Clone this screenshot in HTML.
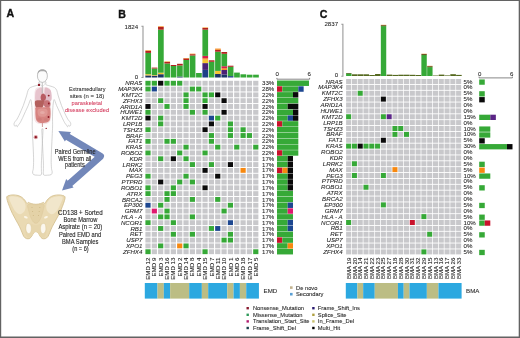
<!DOCTYPE html>
<html><head><meta charset="utf-8"><style>
html,body{margin:0;padding:0;background:#fff;width:520px;height:338px;overflow:hidden;}
svg{display:block;font-family:"Liberation Sans",sans-serif;}
#wrap{will-change:transform;width:520px;height:338px;filter:blur(0.3px);}
</style></head><body>
<div id="wrap"><svg width="520" height="338" viewBox="0 0 520 338">
<rect x="0.00" y="0.00" width="520.00" height="1.00" fill="#636363"/>
<rect x="0.00" y="0.00" width="1.20" height="338.00" fill="#636363"/>
<rect x="518.70" y="0.00" width="1.30" height="338.00" fill="#636363"/>
<rect x="0.00" y="336.50" width="520.00" height="1.50" fill="#636363"/>
<text x="6.40" y="16.90" font-size="10.6" text-anchor="start" fill="#111" font-weight="bold" stroke="#111" stroke-width="0.35">A</text>
<text x="118.20" y="17.70" font-size="10.6" text-anchor="start" fill="#111" font-weight="bold" stroke="#111" stroke-width="0.35">B</text>
<text x="319.80" y="18.00" font-size="10.6" text-anchor="start" fill="#111" font-weight="bold" stroke="#111" stroke-width="0.35">C</text>
<rect x="145.40" y="80.80" width="5.20" height="4.85" fill="#36a937"/>
<rect x="151.74" y="80.80" width="5.20" height="4.85" fill="#36a937"/>
<rect x="158.08" y="80.80" width="5.20" height="4.85" fill="#0a0a0a"/>
<rect x="164.42" y="80.80" width="5.20" height="4.85" fill="#36a937"/>
<rect x="170.76" y="80.80" width="5.20" height="4.85" fill="#36a937"/>
<rect x="177.10" y="80.80" width="5.20" height="4.85" fill="#36a937"/>
<rect x="183.44" y="80.80" width="5.20" height="4.85" fill="#c8c8cb"/>
<rect x="189.78" y="80.80" width="5.20" height="4.85" fill="#c8c8cb"/>
<rect x="196.12" y="80.80" width="5.20" height="4.85" fill="#c8c8cb"/>
<rect x="202.46" y="80.80" width="5.20" height="4.85" fill="#c8c8cb"/>
<rect x="208.80" y="80.80" width="5.20" height="4.85" fill="#c8c8cb"/>
<rect x="215.14" y="80.80" width="5.20" height="4.85" fill="#c8c8cb"/>
<rect x="221.48" y="80.80" width="5.20" height="4.85" fill="#c8c8cb"/>
<rect x="227.82" y="80.80" width="5.20" height="4.85" fill="#c8c8cb"/>
<rect x="234.16" y="80.80" width="5.20" height="4.85" fill="#c8c8cb"/>
<rect x="240.50" y="80.80" width="5.20" height="4.85" fill="#c8c8cb"/>
<rect x="246.84" y="80.80" width="5.20" height="4.85" fill="#c8c8cb"/>
<rect x="253.18" y="80.80" width="5.20" height="4.85" fill="#c8c8cb"/>
<rect x="145.40" y="86.61" width="5.20" height="4.85" fill="#36a937"/>
<rect x="151.74" y="86.61" width="5.20" height="4.85" fill="#1d4790"/>
<rect x="158.08" y="86.61" width="5.20" height="4.85" fill="#c8c8cb"/>
<rect x="164.42" y="86.61" width="5.20" height="4.85" fill="#c8c8cb"/>
<rect x="170.76" y="86.61" width="5.20" height="4.85" fill="#c8c8cb"/>
<rect x="177.10" y="86.61" width="5.20" height="4.85" fill="#c8c8cb"/>
<rect x="183.44" y="86.61" width="5.20" height="4.85" fill="#c8c8cb"/>
<rect x="189.78" y="86.61" width="5.20" height="4.85" fill="#36a937"/>
<rect x="196.12" y="86.61" width="5.20" height="4.85" fill="#36a937"/>
<rect x="202.46" y="86.61" width="5.20" height="4.85" fill="#c8c8cb"/>
<rect x="208.80" y="86.61" width="5.20" height="4.85" fill="#c8c8cb"/>
<rect x="215.14" y="86.61" width="5.20" height="4.85" fill="#c8c8cb"/>
<rect x="221.48" y="86.61" width="5.20" height="4.85" fill="#c8c8cb"/>
<rect x="227.82" y="86.61" width="5.20" height="4.85" fill="#c8c8cb"/>
<rect x="234.16" y="86.61" width="5.20" height="4.85" fill="#c8c8cb"/>
<rect x="240.50" y="86.61" width="5.20" height="4.85" fill="#c8c8cb"/>
<rect x="246.84" y="86.61" width="5.20" height="4.85" fill="#c8c8cb"/>
<rect x="253.18" y="86.61" width="5.20" height="4.85" fill="#c8c8cb"/>
<rect x="145.40" y="92.42" width="5.20" height="4.85" fill="#c8c8cb"/>
<rect x="151.74" y="92.42" width="5.20" height="4.85" fill="#c8c8cb"/>
<rect x="158.08" y="92.42" width="5.20" height="4.85" fill="#c8c8cb"/>
<rect x="164.42" y="92.42" width="5.20" height="4.85" fill="#c8c8cb"/>
<rect x="170.76" y="92.42" width="5.20" height="4.85" fill="#c8c8cb"/>
<rect x="177.10" y="92.42" width="5.20" height="4.85" fill="#c8c8cb"/>
<rect x="183.44" y="92.42" width="5.20" height="4.85" fill="#36a937"/>
<rect x="189.78" y="92.42" width="5.20" height="4.85" fill="#c8c8cb"/>
<rect x="196.12" y="92.42" width="5.20" height="4.85" fill="#c8c8cb"/>
<rect x="202.46" y="92.42" width="5.20" height="4.85" fill="#36a937"/>
<rect x="208.80" y="92.42" width="5.20" height="4.85" fill="#36a937"/>
<rect x="215.14" y="92.42" width="5.20" height="4.85" fill="#0a0a0a"/>
<rect x="221.48" y="92.42" width="5.20" height="4.85" fill="#c8c8cb"/>
<rect x="227.82" y="92.42" width="5.20" height="4.85" fill="#c8c8cb"/>
<rect x="234.16" y="92.42" width="5.20" height="4.85" fill="#c8c8cb"/>
<rect x="240.50" y="92.42" width="5.20" height="4.85" fill="#c8c8cb"/>
<rect x="246.84" y="92.42" width="5.20" height="4.85" fill="#c8c8cb"/>
<rect x="253.18" y="92.42" width="5.20" height="4.85" fill="#c8c8cb"/>
<rect x="145.40" y="98.23" width="5.20" height="4.85" fill="#c8c8cb"/>
<rect x="151.74" y="98.23" width="5.20" height="4.85" fill="#c8c8cb"/>
<rect x="158.08" y="98.23" width="5.20" height="4.85" fill="#36a937"/>
<rect x="164.42" y="98.23" width="5.20" height="4.85" fill="#c8c8cb"/>
<rect x="170.76" y="98.23" width="5.20" height="4.85" fill="#c8c8cb"/>
<rect x="177.10" y="98.23" width="5.20" height="4.85" fill="#c8c8cb"/>
<rect x="183.44" y="98.23" width="5.20" height="4.85" fill="#36a937"/>
<rect x="189.78" y="98.23" width="5.20" height="4.85" fill="#c8c8cb"/>
<rect x="196.12" y="98.23" width="5.20" height="4.85" fill="#c8c8cb"/>
<rect x="202.46" y="98.23" width="5.20" height="4.85" fill="#36a937"/>
<rect x="208.80" y="98.23" width="5.20" height="4.85" fill="#c8c8cb"/>
<rect x="215.14" y="98.23" width="5.20" height="4.85" fill="#c8c8cb"/>
<rect x="221.48" y="98.23" width="5.20" height="4.85" fill="#0a0a0a"/>
<rect x="227.82" y="98.23" width="5.20" height="4.85" fill="#c8c8cb"/>
<rect x="234.16" y="98.23" width="5.20" height="4.85" fill="#c8c8cb"/>
<rect x="240.50" y="98.23" width="5.20" height="4.85" fill="#c8c8cb"/>
<rect x="246.84" y="98.23" width="5.20" height="4.85" fill="#c8c8cb"/>
<rect x="253.18" y="98.23" width="5.20" height="4.85" fill="#c8c8cb"/>
<rect x="145.40" y="104.04" width="5.20" height="4.85" fill="#0a0a0a"/>
<rect x="151.74" y="104.04" width="5.20" height="4.85" fill="#c8c8cb"/>
<rect x="158.08" y="104.04" width="5.20" height="4.85" fill="#c8c8cb"/>
<rect x="164.42" y="104.04" width="5.20" height="4.85" fill="#36a937"/>
<rect x="170.76" y="104.04" width="5.20" height="4.85" fill="#c8c8cb"/>
<rect x="177.10" y="104.04" width="5.20" height="4.85" fill="#c8c8cb"/>
<rect x="183.44" y="104.04" width="5.20" height="4.85" fill="#36a937"/>
<rect x="189.78" y="104.04" width="5.20" height="4.85" fill="#c8c8cb"/>
<rect x="196.12" y="104.04" width="5.20" height="4.85" fill="#c8c8cb"/>
<rect x="202.46" y="104.04" width="5.20" height="4.85" fill="#0a0a0a"/>
<rect x="208.80" y="104.04" width="5.20" height="4.85" fill="#c8c8cb"/>
<rect x="215.14" y="104.04" width="5.20" height="4.85" fill="#c8c8cb"/>
<rect x="221.48" y="104.04" width="5.20" height="4.85" fill="#c8c8cb"/>
<rect x="227.82" y="104.04" width="5.20" height="4.85" fill="#c8c8cb"/>
<rect x="234.16" y="104.04" width="5.20" height="4.85" fill="#c8c8cb"/>
<rect x="240.50" y="104.04" width="5.20" height="4.85" fill="#c8c8cb"/>
<rect x="246.84" y="104.04" width="5.20" height="4.85" fill="#c8c8cb"/>
<rect x="253.18" y="104.04" width="5.20" height="4.85" fill="#c8c8cb"/>
<rect x="145.40" y="109.85" width="5.20" height="4.85" fill="#36a937"/>
<rect x="151.74" y="109.85" width="5.20" height="4.85" fill="#c8c8cb"/>
<rect x="158.08" y="109.85" width="5.20" height="4.85" fill="#c8c8cb"/>
<rect x="164.42" y="109.85" width="5.20" height="4.85" fill="#c8c8cb"/>
<rect x="170.76" y="109.85" width="5.20" height="4.85" fill="#c8c8cb"/>
<rect x="177.10" y="109.85" width="5.20" height="4.85" fill="#c8c8cb"/>
<rect x="183.44" y="109.85" width="5.20" height="4.85" fill="#c8c8cb"/>
<rect x="189.78" y="109.85" width="5.20" height="4.85" fill="#36a937"/>
<rect x="196.12" y="109.85" width="5.20" height="4.85" fill="#c8c8cb"/>
<rect x="202.46" y="109.85" width="5.20" height="4.85" fill="#36a937"/>
<rect x="208.80" y="109.85" width="5.20" height="4.85" fill="#c8c8cb"/>
<rect x="215.14" y="109.85" width="5.20" height="4.85" fill="#c8c8cb"/>
<rect x="221.48" y="109.85" width="5.20" height="4.85" fill="#0a0a0a"/>
<rect x="227.82" y="109.85" width="5.20" height="4.85" fill="#c8c8cb"/>
<rect x="234.16" y="109.85" width="5.20" height="4.85" fill="#c8c8cb"/>
<rect x="240.50" y="109.85" width="5.20" height="4.85" fill="#c8c8cb"/>
<rect x="246.84" y="109.85" width="5.20" height="4.85" fill="#c8c8cb"/>
<rect x="253.18" y="109.85" width="5.20" height="4.85" fill="#c8c8cb"/>
<rect x="145.40" y="115.66" width="5.20" height="4.85" fill="#0a0a0a"/>
<rect x="151.74" y="115.66" width="5.20" height="4.85" fill="#c8c8cb"/>
<rect x="158.08" y="115.66" width="5.20" height="4.85" fill="#36a937"/>
<rect x="164.42" y="115.66" width="5.20" height="4.85" fill="#c8c8cb"/>
<rect x="170.76" y="115.66" width="5.20" height="4.85" fill="#c8c8cb"/>
<rect x="177.10" y="115.66" width="5.20" height="4.85" fill="#c8c8cb"/>
<rect x="183.44" y="115.66" width="5.20" height="4.85" fill="#c8c8cb"/>
<rect x="189.78" y="115.66" width="5.20" height="4.85" fill="#c8c8cb"/>
<rect x="196.12" y="115.66" width="5.20" height="4.85" fill="#c8c8cb"/>
<rect x="202.46" y="115.66" width="5.20" height="4.85" fill="#c8c8cb"/>
<rect x="208.80" y="115.66" width="5.20" height="4.85" fill="#1d4790"/>
<rect x="215.14" y="115.66" width="5.20" height="4.85" fill="#36a937"/>
<rect x="221.48" y="115.66" width="5.20" height="4.85" fill="#c8c8cb"/>
<rect x="227.82" y="115.66" width="5.20" height="4.85" fill="#c8c8cb"/>
<rect x="234.16" y="115.66" width="5.20" height="4.85" fill="#c8c8cb"/>
<rect x="240.50" y="115.66" width="5.20" height="4.85" fill="#c8c8cb"/>
<rect x="246.84" y="115.66" width="5.20" height="4.85" fill="#c8c8cb"/>
<rect x="253.18" y="115.66" width="5.20" height="4.85" fill="#c8c8cb"/>
<rect x="145.40" y="121.47" width="5.20" height="4.85" fill="#c8c8cb"/>
<rect x="151.74" y="121.47" width="5.20" height="4.85" fill="#c8c8cb"/>
<rect x="158.08" y="121.47" width="5.20" height="4.85" fill="#36a937"/>
<rect x="164.42" y="121.47" width="5.20" height="4.85" fill="#c8c8cb"/>
<rect x="170.76" y="121.47" width="5.20" height="4.85" fill="#c8c8cb"/>
<rect x="177.10" y="121.47" width="5.20" height="4.85" fill="#c8c8cb"/>
<rect x="183.44" y="121.47" width="5.20" height="4.85" fill="#c8c8cb"/>
<rect x="189.78" y="121.47" width="5.20" height="4.85" fill="#c8c8cb"/>
<rect x="196.12" y="121.47" width="5.20" height="4.85" fill="#c8c8cb"/>
<rect x="202.46" y="121.47" width="5.20" height="4.85" fill="#c8c8cb"/>
<rect x="208.80" y="121.47" width="5.20" height="4.85" fill="#0a0a0a"/>
<rect x="215.14" y="121.47" width="5.20" height="4.85" fill="#c8c8cb"/>
<rect x="221.48" y="121.47" width="5.20" height="4.85" fill="#c8c8cb"/>
<rect x="227.82" y="121.47" width="5.20" height="4.85" fill="#36a937"/>
<rect x="234.16" y="121.47" width="5.20" height="4.85" fill="#c8c8cb"/>
<rect x="240.50" y="121.47" width="5.20" height="4.85" fill="#c8c8cb"/>
<rect x="246.84" y="121.47" width="5.20" height="4.85" fill="#c8c8cb"/>
<rect x="253.18" y="121.47" width="5.20" height="4.85" fill="#c8c8cb"/>
<rect x="145.40" y="127.28" width="5.20" height="4.85" fill="#36a937"/>
<rect x="151.74" y="127.28" width="5.20" height="4.85" fill="#c8c8cb"/>
<rect x="158.08" y="127.28" width="5.20" height="4.85" fill="#c8c8cb"/>
<rect x="164.42" y="127.28" width="5.20" height="4.85" fill="#c8c8cb"/>
<rect x="170.76" y="127.28" width="5.20" height="4.85" fill="#c8c8cb"/>
<rect x="177.10" y="127.28" width="5.20" height="4.85" fill="#c8c8cb"/>
<rect x="183.44" y="127.28" width="5.20" height="4.85" fill="#c8c8cb"/>
<rect x="189.78" y="127.28" width="5.20" height="4.85" fill="#c8c8cb"/>
<rect x="196.12" y="127.28" width="5.20" height="4.85" fill="#c8c8cb"/>
<rect x="202.46" y="127.28" width="5.20" height="4.85" fill="#0a0a0a"/>
<rect x="208.80" y="127.28" width="5.20" height="4.85" fill="#c8c8cb"/>
<rect x="215.14" y="127.28" width="5.20" height="4.85" fill="#c8c8cb"/>
<rect x="221.48" y="127.28" width="5.20" height="4.85" fill="#c8c8cb"/>
<rect x="227.82" y="127.28" width="5.20" height="4.85" fill="#36a937"/>
<rect x="234.16" y="127.28" width="5.20" height="4.85" fill="#c8c8cb"/>
<rect x="240.50" y="127.28" width="5.20" height="4.85" fill="#36a937"/>
<rect x="246.84" y="127.28" width="5.20" height="4.85" fill="#c8c8cb"/>
<rect x="253.18" y="127.28" width="5.20" height="4.85" fill="#c8c8cb"/>
<rect x="145.40" y="133.09" width="5.20" height="4.85" fill="#c8c8cb"/>
<rect x="151.74" y="133.09" width="5.20" height="4.85" fill="#c8c8cb"/>
<rect x="158.08" y="133.09" width="5.20" height="4.85" fill="#c8c8cb"/>
<rect x="164.42" y="133.09" width="5.20" height="4.85" fill="#c8c8cb"/>
<rect x="170.76" y="133.09" width="5.20" height="4.85" fill="#c8c8cb"/>
<rect x="177.10" y="133.09" width="5.20" height="4.85" fill="#c8c8cb"/>
<rect x="183.44" y="133.09" width="5.20" height="4.85" fill="#c8c8cb"/>
<rect x="189.78" y="133.09" width="5.20" height="4.85" fill="#c8c8cb"/>
<rect x="196.12" y="133.09" width="5.20" height="4.85" fill="#c8c8cb"/>
<rect x="202.46" y="133.09" width="5.20" height="4.85" fill="#c8c8cb"/>
<rect x="208.80" y="133.09" width="5.20" height="4.85" fill="#36a937"/>
<rect x="215.14" y="133.09" width="5.20" height="4.85" fill="#c8c8cb"/>
<rect x="221.48" y="133.09" width="5.20" height="4.85" fill="#c8c8cb"/>
<rect x="227.82" y="133.09" width="5.20" height="4.85" fill="#36a937"/>
<rect x="234.16" y="133.09" width="5.20" height="4.85" fill="#c8c8cb"/>
<rect x="240.50" y="133.09" width="5.20" height="4.85" fill="#36a937"/>
<rect x="246.84" y="133.09" width="5.20" height="4.85" fill="#36a937"/>
<rect x="253.18" y="133.09" width="5.20" height="4.85" fill="#c8c8cb"/>
<rect x="145.40" y="138.90" width="5.20" height="4.85" fill="#36a937"/>
<rect x="151.74" y="138.90" width="5.20" height="4.85" fill="#c8c8cb"/>
<rect x="158.08" y="138.90" width="5.20" height="4.85" fill="#c8c8cb"/>
<rect x="164.42" y="138.90" width="5.20" height="4.85" fill="#36a937"/>
<rect x="170.76" y="138.90" width="5.20" height="4.85" fill="#36a937"/>
<rect x="177.10" y="138.90" width="5.20" height="4.85" fill="#c8c8cb"/>
<rect x="183.44" y="138.90" width="5.20" height="4.85" fill="#c8c8cb"/>
<rect x="189.78" y="138.90" width="5.20" height="4.85" fill="#c8c8cb"/>
<rect x="196.12" y="138.90" width="5.20" height="4.85" fill="#c8c8cb"/>
<rect x="202.46" y="138.90" width="5.20" height="4.85" fill="#c8c8cb"/>
<rect x="208.80" y="138.90" width="5.20" height="4.85" fill="#36a937"/>
<rect x="215.14" y="138.90" width="5.20" height="4.85" fill="#c8c8cb"/>
<rect x="221.48" y="138.90" width="5.20" height="4.85" fill="#c8c8cb"/>
<rect x="227.82" y="138.90" width="5.20" height="4.85" fill="#c8c8cb"/>
<rect x="234.16" y="138.90" width="5.20" height="4.85" fill="#c8c8cb"/>
<rect x="240.50" y="138.90" width="5.20" height="4.85" fill="#c8c8cb"/>
<rect x="246.84" y="138.90" width="5.20" height="4.85" fill="#c8c8cb"/>
<rect x="253.18" y="138.90" width="5.20" height="4.85" fill="#c8c8cb"/>
<rect x="145.40" y="144.71" width="5.20" height="4.85" fill="#c8c8cb"/>
<rect x="151.74" y="144.71" width="5.20" height="4.85" fill="#c8c8cb"/>
<rect x="158.08" y="144.71" width="5.20" height="4.85" fill="#c8c8cb"/>
<rect x="164.42" y="144.71" width="5.20" height="4.85" fill="#c8c8cb"/>
<rect x="170.76" y="144.71" width="5.20" height="4.85" fill="#c8c8cb"/>
<rect x="177.10" y="144.71" width="5.20" height="4.85" fill="#c8c8cb"/>
<rect x="183.44" y="144.71" width="5.20" height="4.85" fill="#36a937"/>
<rect x="189.78" y="144.71" width="5.20" height="4.85" fill="#c8c8cb"/>
<rect x="196.12" y="144.71" width="5.20" height="4.85" fill="#c8c8cb"/>
<rect x="202.46" y="144.71" width="5.20" height="4.85" fill="#c8c8cb"/>
<rect x="208.80" y="144.71" width="5.20" height="4.85" fill="#c8c8cb"/>
<rect x="215.14" y="144.71" width="5.20" height="4.85" fill="#36a937"/>
<rect x="221.48" y="144.71" width="5.20" height="4.85" fill="#c8c8cb"/>
<rect x="227.82" y="144.71" width="5.20" height="4.85" fill="#c8c8cb"/>
<rect x="234.16" y="144.71" width="5.20" height="4.85" fill="#36a937"/>
<rect x="240.50" y="144.71" width="5.20" height="4.85" fill="#c8c8cb"/>
<rect x="246.84" y="144.71" width="5.20" height="4.85" fill="#c8c8cb"/>
<rect x="253.18" y="144.71" width="5.20" height="4.85" fill="#36a937"/>
<rect x="145.40" y="150.52" width="5.20" height="4.85" fill="#36a937"/>
<rect x="151.74" y="150.52" width="5.20" height="4.85" fill="#c8c8cb"/>
<rect x="158.08" y="150.52" width="5.20" height="4.85" fill="#c8c8cb"/>
<rect x="164.42" y="150.52" width="5.20" height="4.85" fill="#c8c8cb"/>
<rect x="170.76" y="150.52" width="5.20" height="4.85" fill="#c8c8cb"/>
<rect x="177.10" y="150.52" width="5.20" height="4.85" fill="#36a937"/>
<rect x="183.44" y="150.52" width="5.20" height="4.85" fill="#c8c8cb"/>
<rect x="189.78" y="150.52" width="5.20" height="4.85" fill="#c8c8cb"/>
<rect x="196.12" y="150.52" width="5.20" height="4.85" fill="#c8c8cb"/>
<rect x="202.46" y="150.52" width="5.20" height="4.85" fill="#36a937"/>
<rect x="208.80" y="150.52" width="5.20" height="4.85" fill="#c8c8cb"/>
<rect x="215.14" y="150.52" width="5.20" height="4.85" fill="#c8c8cb"/>
<rect x="221.48" y="150.52" width="5.20" height="4.85" fill="#c8c8cb"/>
<rect x="227.82" y="150.52" width="5.20" height="4.85" fill="#c8c8cb"/>
<rect x="234.16" y="150.52" width="5.20" height="4.85" fill="#c8c8cb"/>
<rect x="240.50" y="150.52" width="5.20" height="4.85" fill="#c8c8cb"/>
<rect x="246.84" y="150.52" width="5.20" height="4.85" fill="#c8c8cb"/>
<rect x="253.18" y="150.52" width="5.20" height="4.85" fill="#c8c8cb"/>
<rect x="145.40" y="156.33" width="5.20" height="4.85" fill="#c8c8cb"/>
<rect x="151.74" y="156.33" width="5.20" height="4.85" fill="#c8c8cb"/>
<rect x="158.08" y="156.33" width="5.20" height="4.85" fill="#36a937"/>
<rect x="164.42" y="156.33" width="5.20" height="4.85" fill="#c8c8cb"/>
<rect x="170.76" y="156.33" width="5.20" height="4.85" fill="#0a0a0a"/>
<rect x="177.10" y="156.33" width="5.20" height="4.85" fill="#c8c8cb"/>
<rect x="183.44" y="156.33" width="5.20" height="4.85" fill="#36a937"/>
<rect x="189.78" y="156.33" width="5.20" height="4.85" fill="#c8c8cb"/>
<rect x="196.12" y="156.33" width="5.20" height="4.85" fill="#c8c8cb"/>
<rect x="202.46" y="156.33" width="5.20" height="4.85" fill="#c8c8cb"/>
<rect x="208.80" y="156.33" width="5.20" height="4.85" fill="#c8c8cb"/>
<rect x="215.14" y="156.33" width="5.20" height="4.85" fill="#c8c8cb"/>
<rect x="221.48" y="156.33" width="5.20" height="4.85" fill="#c8c8cb"/>
<rect x="227.82" y="156.33" width="5.20" height="4.85" fill="#c8c8cb"/>
<rect x="234.16" y="156.33" width="5.20" height="4.85" fill="#c8c8cb"/>
<rect x="240.50" y="156.33" width="5.20" height="4.85" fill="#c8c8cb"/>
<rect x="246.84" y="156.33" width="5.20" height="4.85" fill="#c8c8cb"/>
<rect x="253.18" y="156.33" width="5.20" height="4.85" fill="#c8c8cb"/>
<rect x="145.40" y="162.14" width="5.20" height="4.85" fill="#c8c8cb"/>
<rect x="151.74" y="162.14" width="5.20" height="4.85" fill="#c8c8cb"/>
<rect x="158.08" y="162.14" width="5.20" height="4.85" fill="#c8c8cb"/>
<rect x="164.42" y="162.14" width="5.20" height="4.85" fill="#c8c8cb"/>
<rect x="170.76" y="162.14" width="5.20" height="4.85" fill="#c8c8cb"/>
<rect x="177.10" y="162.14" width="5.20" height="4.85" fill="#c8c8cb"/>
<rect x="183.44" y="162.14" width="5.20" height="4.85" fill="#c8c8cb"/>
<rect x="189.78" y="162.14" width="5.20" height="4.85" fill="#36a937"/>
<rect x="196.12" y="162.14" width="5.20" height="4.85" fill="#c8c8cb"/>
<rect x="202.46" y="162.14" width="5.20" height="4.85" fill="#c8c8cb"/>
<rect x="208.80" y="162.14" width="5.20" height="4.85" fill="#36a937"/>
<rect x="215.14" y="162.14" width="5.20" height="4.85" fill="#c8c8cb"/>
<rect x="221.48" y="162.14" width="5.20" height="4.85" fill="#c8c8cb"/>
<rect x="227.82" y="162.14" width="5.20" height="4.85" fill="#0a0a0a"/>
<rect x="234.16" y="162.14" width="5.20" height="4.85" fill="#c8c8cb"/>
<rect x="240.50" y="162.14" width="5.20" height="4.85" fill="#c8c8cb"/>
<rect x="246.84" y="162.14" width="5.20" height="4.85" fill="#c8c8cb"/>
<rect x="253.18" y="162.14" width="5.20" height="4.85" fill="#c8c8cb"/>
<rect x="145.40" y="167.95" width="5.20" height="4.85" fill="#c8c8cb"/>
<rect x="151.74" y="167.95" width="5.20" height="4.85" fill="#c8c8cb"/>
<rect x="158.08" y="167.95" width="5.20" height="4.85" fill="#c8c8cb"/>
<rect x="164.42" y="167.95" width="5.20" height="4.85" fill="#c8c8cb"/>
<rect x="170.76" y="167.95" width="5.20" height="4.85" fill="#c8c8cb"/>
<rect x="177.10" y="167.95" width="5.20" height="4.85" fill="#c8c8cb"/>
<rect x="183.44" y="167.95" width="5.20" height="4.85" fill="#c8c8cb"/>
<rect x="189.78" y="167.95" width="5.20" height="4.85" fill="#c8c8cb"/>
<rect x="196.12" y="167.95" width="5.20" height="4.85" fill="#c8c8cb"/>
<rect x="202.46" y="167.95" width="5.20" height="4.85" fill="#0a0a0a"/>
<rect x="208.80" y="167.95" width="5.20" height="4.85" fill="#c8c8cb"/>
<rect x="215.14" y="167.95" width="5.20" height="4.85" fill="#c8c8cb"/>
<rect x="221.48" y="167.95" width="5.20" height="4.85" fill="#c8c8cb"/>
<rect x="227.82" y="167.95" width="5.20" height="4.85" fill="#c8c8cb"/>
<rect x="234.16" y="167.95" width="5.20" height="4.85" fill="#c8c8cb"/>
<rect x="240.50" y="167.95" width="5.20" height="4.85" fill="#f7880f"/>
<rect x="246.84" y="167.95" width="5.20" height="4.85" fill="#c8c8cb"/>
<rect x="253.18" y="167.95" width="5.20" height="4.85" fill="#c8c8cb"/>
<rect x="145.40" y="173.76" width="5.20" height="4.85" fill="#36a937"/>
<rect x="151.74" y="173.76" width="5.20" height="4.85" fill="#c8c8cb"/>
<rect x="158.08" y="173.76" width="5.20" height="4.85" fill="#c8c8cb"/>
<rect x="164.42" y="173.76" width="5.20" height="4.85" fill="#c8c8cb"/>
<rect x="170.76" y="173.76" width="5.20" height="4.85" fill="#c8c8cb"/>
<rect x="177.10" y="173.76" width="5.20" height="4.85" fill="#c8c8cb"/>
<rect x="183.44" y="173.76" width="5.20" height="4.85" fill="#36a937"/>
<rect x="189.78" y="173.76" width="5.20" height="4.85" fill="#c8c8cb"/>
<rect x="196.12" y="173.76" width="5.20" height="4.85" fill="#c8c8cb"/>
<rect x="202.46" y="173.76" width="5.20" height="4.85" fill="#c8c8cb"/>
<rect x="208.80" y="173.76" width="5.20" height="4.85" fill="#c8c8cb"/>
<rect x="215.14" y="173.76" width="5.20" height="4.85" fill="#0a0a0a"/>
<rect x="221.48" y="173.76" width="5.20" height="4.85" fill="#c8c8cb"/>
<rect x="227.82" y="173.76" width="5.20" height="4.85" fill="#c8c8cb"/>
<rect x="234.16" y="173.76" width="5.20" height="4.85" fill="#c8c8cb"/>
<rect x="240.50" y="173.76" width="5.20" height="4.85" fill="#c8c8cb"/>
<rect x="246.84" y="173.76" width="5.20" height="4.85" fill="#c8c8cb"/>
<rect x="253.18" y="173.76" width="5.20" height="4.85" fill="#c8c8cb"/>
<rect x="145.40" y="179.57" width="5.20" height="4.85" fill="#c8c8cb"/>
<rect x="151.74" y="179.57" width="5.20" height="4.85" fill="#c8c8cb"/>
<rect x="158.08" y="179.57" width="5.20" height="4.85" fill="#0a0a0a"/>
<rect x="164.42" y="179.57" width="5.20" height="4.85" fill="#c8c8cb"/>
<rect x="170.76" y="179.57" width="5.20" height="4.85" fill="#c8c8cb"/>
<rect x="177.10" y="179.57" width="5.20" height="4.85" fill="#36a937"/>
<rect x="183.44" y="179.57" width="5.20" height="4.85" fill="#c8c8cb"/>
<rect x="189.78" y="179.57" width="5.20" height="4.85" fill="#36a937"/>
<rect x="196.12" y="179.57" width="5.20" height="4.85" fill="#c8c8cb"/>
<rect x="202.46" y="179.57" width="5.20" height="4.85" fill="#c8c8cb"/>
<rect x="208.80" y="179.57" width="5.20" height="4.85" fill="#c8c8cb"/>
<rect x="215.14" y="179.57" width="5.20" height="4.85" fill="#c8c8cb"/>
<rect x="221.48" y="179.57" width="5.20" height="4.85" fill="#c8c8cb"/>
<rect x="227.82" y="179.57" width="5.20" height="4.85" fill="#c8c8cb"/>
<rect x="234.16" y="179.57" width="5.20" height="4.85" fill="#c8c8cb"/>
<rect x="240.50" y="179.57" width="5.20" height="4.85" fill="#c8c8cb"/>
<rect x="246.84" y="179.57" width="5.20" height="4.85" fill="#c8c8cb"/>
<rect x="253.18" y="179.57" width="5.20" height="4.85" fill="#c8c8cb"/>
<rect x="145.40" y="185.38" width="5.20" height="4.85" fill="#36a937"/>
<rect x="151.74" y="185.38" width="5.20" height="4.85" fill="#c8c8cb"/>
<rect x="158.08" y="185.38" width="5.20" height="4.85" fill="#c8c8cb"/>
<rect x="164.42" y="185.38" width="5.20" height="4.85" fill="#c8c8cb"/>
<rect x="170.76" y="185.38" width="5.20" height="4.85" fill="#36a937"/>
<rect x="177.10" y="185.38" width="5.20" height="4.85" fill="#c8c8cb"/>
<rect x="183.44" y="185.38" width="5.20" height="4.85" fill="#c8c8cb"/>
<rect x="189.78" y="185.38" width="5.20" height="4.85" fill="#c8c8cb"/>
<rect x="196.12" y="185.38" width="5.20" height="4.85" fill="#c8c8cb"/>
<rect x="202.46" y="185.38" width="5.20" height="4.85" fill="#0a0a0a"/>
<rect x="208.80" y="185.38" width="5.20" height="4.85" fill="#c8c8cb"/>
<rect x="215.14" y="185.38" width="5.20" height="4.85" fill="#c8c8cb"/>
<rect x="221.48" y="185.38" width="5.20" height="4.85" fill="#c8c8cb"/>
<rect x="227.82" y="185.38" width="5.20" height="4.85" fill="#c8c8cb"/>
<rect x="234.16" y="185.38" width="5.20" height="4.85" fill="#c8c8cb"/>
<rect x="240.50" y="185.38" width="5.20" height="4.85" fill="#c8c8cb"/>
<rect x="246.84" y="185.38" width="5.20" height="4.85" fill="#c8c8cb"/>
<rect x="253.18" y="185.38" width="5.20" height="4.85" fill="#c8c8cb"/>
<rect x="145.40" y="191.19" width="5.20" height="4.85" fill="#36a937"/>
<rect x="151.74" y="191.19" width="5.20" height="4.85" fill="#c8c8cb"/>
<rect x="158.08" y="191.19" width="5.20" height="4.85" fill="#c8c8cb"/>
<rect x="164.42" y="191.19" width="5.20" height="4.85" fill="#36a937"/>
<rect x="170.76" y="191.19" width="5.20" height="4.85" fill="#36a937"/>
<rect x="177.10" y="191.19" width="5.20" height="4.85" fill="#c8c8cb"/>
<rect x="183.44" y="191.19" width="5.20" height="4.85" fill="#c8c8cb"/>
<rect x="189.78" y="191.19" width="5.20" height="4.85" fill="#c8c8cb"/>
<rect x="196.12" y="191.19" width="5.20" height="4.85" fill="#c8c8cb"/>
<rect x="202.46" y="191.19" width="5.20" height="4.85" fill="#c8c8cb"/>
<rect x="208.80" y="191.19" width="5.20" height="4.85" fill="#c8c8cb"/>
<rect x="215.14" y="191.19" width="5.20" height="4.85" fill="#c8c8cb"/>
<rect x="221.48" y="191.19" width="5.20" height="4.85" fill="#c8c8cb"/>
<rect x="227.82" y="191.19" width="5.20" height="4.85" fill="#c8c8cb"/>
<rect x="234.16" y="191.19" width="5.20" height="4.85" fill="#c8c8cb"/>
<rect x="240.50" y="191.19" width="5.20" height="4.85" fill="#c8c8cb"/>
<rect x="246.84" y="191.19" width="5.20" height="4.85" fill="#c8c8cb"/>
<rect x="253.18" y="191.19" width="5.20" height="4.85" fill="#c8c8cb"/>
<rect x="145.40" y="197.00" width="5.20" height="4.85" fill="#c8c8cb"/>
<rect x="151.74" y="197.00" width="5.20" height="4.85" fill="#c8c8cb"/>
<rect x="158.08" y="197.00" width="5.20" height="4.85" fill="#c8c8cb"/>
<rect x="164.42" y="197.00" width="5.20" height="4.85" fill="#36a937"/>
<rect x="170.76" y="197.00" width="5.20" height="4.85" fill="#c8c8cb"/>
<rect x="177.10" y="197.00" width="5.20" height="4.85" fill="#c8c8cb"/>
<rect x="183.44" y="197.00" width="5.20" height="4.85" fill="#c8c8cb"/>
<rect x="189.78" y="197.00" width="5.20" height="4.85" fill="#36a937"/>
<rect x="196.12" y="197.00" width="5.20" height="4.85" fill="#c8c8cb"/>
<rect x="202.46" y="197.00" width="5.20" height="4.85" fill="#c8c8cb"/>
<rect x="208.80" y="197.00" width="5.20" height="4.85" fill="#c8c8cb"/>
<rect x="215.14" y="197.00" width="5.20" height="4.85" fill="#36a937"/>
<rect x="221.48" y="197.00" width="5.20" height="4.85" fill="#c8c8cb"/>
<rect x="227.82" y="197.00" width="5.20" height="4.85" fill="#c8c8cb"/>
<rect x="234.16" y="197.00" width="5.20" height="4.85" fill="#c8c8cb"/>
<rect x="240.50" y="197.00" width="5.20" height="4.85" fill="#c8c8cb"/>
<rect x="246.84" y="197.00" width="5.20" height="4.85" fill="#c8c8cb"/>
<rect x="253.18" y="197.00" width="5.20" height="4.85" fill="#c8c8cb"/>
<rect x="145.40" y="202.81" width="5.20" height="4.85" fill="#1d4790"/>
<rect x="151.74" y="202.81" width="5.20" height="4.85" fill="#c8c8cb"/>
<rect x="158.08" y="202.81" width="5.20" height="4.85" fill="#36a937"/>
<rect x="164.42" y="202.81" width="5.20" height="4.85" fill="#c8c8cb"/>
<rect x="170.76" y="202.81" width="5.20" height="4.85" fill="#c8c8cb"/>
<rect x="177.10" y="202.81" width="5.20" height="4.85" fill="#c8c8cb"/>
<rect x="183.44" y="202.81" width="5.20" height="4.85" fill="#c8c8cb"/>
<rect x="189.78" y="202.81" width="5.20" height="4.85" fill="#c8c8cb"/>
<rect x="196.12" y="202.81" width="5.20" height="4.85" fill="#c8c8cb"/>
<rect x="202.46" y="202.81" width="5.20" height="4.85" fill="#c8c8cb"/>
<rect x="208.80" y="202.81" width="5.20" height="4.85" fill="#c8c8cb"/>
<rect x="215.14" y="202.81" width="5.20" height="4.85" fill="#c8c8cb"/>
<rect x="221.48" y="202.81" width="5.20" height="4.85" fill="#c8c8cb"/>
<rect x="227.82" y="202.81" width="5.20" height="4.85" fill="#36a937"/>
<rect x="234.16" y="202.81" width="5.20" height="4.85" fill="#c8c8cb"/>
<rect x="240.50" y="202.81" width="5.20" height="4.85" fill="#c8c8cb"/>
<rect x="246.84" y="202.81" width="5.20" height="4.85" fill="#c8c8cb"/>
<rect x="253.18" y="202.81" width="5.20" height="4.85" fill="#c8c8cb"/>
<rect x="145.40" y="208.62" width="5.20" height="4.85" fill="#c8c8cb"/>
<rect x="151.74" y="208.62" width="5.20" height="4.85" fill="#e0186f"/>
<rect x="158.08" y="208.62" width="5.20" height="4.85" fill="#c8c8cb"/>
<rect x="164.42" y="208.62" width="5.20" height="4.85" fill="#36a937"/>
<rect x="170.76" y="208.62" width="5.20" height="4.85" fill="#c8c8cb"/>
<rect x="177.10" y="208.62" width="5.20" height="4.85" fill="#c8c8cb"/>
<rect x="183.44" y="208.62" width="5.20" height="4.85" fill="#c8c8cb"/>
<rect x="189.78" y="208.62" width="5.20" height="4.85" fill="#c8c8cb"/>
<rect x="196.12" y="208.62" width="5.20" height="4.85" fill="#c8c8cb"/>
<rect x="202.46" y="208.62" width="5.20" height="4.85" fill="#c8c8cb"/>
<rect x="208.80" y="208.62" width="5.20" height="4.85" fill="#c8c8cb"/>
<rect x="215.14" y="208.62" width="5.20" height="4.85" fill="#c8c8cb"/>
<rect x="221.48" y="208.62" width="5.20" height="4.85" fill="#36a937"/>
<rect x="227.82" y="208.62" width="5.20" height="4.85" fill="#c8c8cb"/>
<rect x="234.16" y="208.62" width="5.20" height="4.85" fill="#c8c8cb"/>
<rect x="240.50" y="208.62" width="5.20" height="4.85" fill="#c8c8cb"/>
<rect x="246.84" y="208.62" width="5.20" height="4.85" fill="#c8c8cb"/>
<rect x="253.18" y="208.62" width="5.20" height="4.85" fill="#c8c8cb"/>
<rect x="145.40" y="214.43" width="5.20" height="4.85" fill="#c8c8cb"/>
<rect x="151.74" y="214.43" width="5.20" height="4.85" fill="#c8c8cb"/>
<rect x="158.08" y="214.43" width="5.20" height="4.85" fill="#36a937"/>
<rect x="164.42" y="214.43" width="5.20" height="4.85" fill="#36a937"/>
<rect x="170.76" y="214.43" width="5.20" height="4.85" fill="#c8c8cb"/>
<rect x="177.10" y="214.43" width="5.20" height="4.85" fill="#c8c8cb"/>
<rect x="183.44" y="214.43" width="5.20" height="4.85" fill="#c8c8cb"/>
<rect x="189.78" y="214.43" width="5.20" height="4.85" fill="#36a937"/>
<rect x="196.12" y="214.43" width="5.20" height="4.85" fill="#c8c8cb"/>
<rect x="202.46" y="214.43" width="5.20" height="4.85" fill="#c8c8cb"/>
<rect x="208.80" y="214.43" width="5.20" height="4.85" fill="#c8c8cb"/>
<rect x="215.14" y="214.43" width="5.20" height="4.85" fill="#c8c8cb"/>
<rect x="221.48" y="214.43" width="5.20" height="4.85" fill="#c8c8cb"/>
<rect x="227.82" y="214.43" width="5.20" height="4.85" fill="#c8c8cb"/>
<rect x="234.16" y="214.43" width="5.20" height="4.85" fill="#c8c8cb"/>
<rect x="240.50" y="214.43" width="5.20" height="4.85" fill="#c8c8cb"/>
<rect x="246.84" y="214.43" width="5.20" height="4.85" fill="#c8c8cb"/>
<rect x="253.18" y="214.43" width="5.20" height="4.85" fill="#c8c8cb"/>
<rect x="145.40" y="220.24" width="5.20" height="4.85" fill="#36a937"/>
<rect x="151.74" y="220.24" width="5.20" height="4.85" fill="#c8c8cb"/>
<rect x="158.08" y="220.24" width="5.20" height="4.85" fill="#c8c8cb"/>
<rect x="164.42" y="220.24" width="5.20" height="4.85" fill="#c8c8cb"/>
<rect x="170.76" y="220.24" width="5.20" height="4.85" fill="#36a937"/>
<rect x="177.10" y="220.24" width="5.20" height="4.85" fill="#c8c8cb"/>
<rect x="183.44" y="220.24" width="5.20" height="4.85" fill="#c8c8cb"/>
<rect x="189.78" y="220.24" width="5.20" height="4.85" fill="#c8c8cb"/>
<rect x="196.12" y="220.24" width="5.20" height="4.85" fill="#c8c8cb"/>
<rect x="202.46" y="220.24" width="5.20" height="4.85" fill="#c8c8cb"/>
<rect x="208.80" y="220.24" width="5.20" height="4.85" fill="#c8c8cb"/>
<rect x="215.14" y="220.24" width="5.20" height="4.85" fill="#c8c8cb"/>
<rect x="221.48" y="220.24" width="5.20" height="4.85" fill="#c8c8cb"/>
<rect x="227.82" y="220.24" width="5.20" height="4.85" fill="#1d4790"/>
<rect x="234.16" y="220.24" width="5.20" height="4.85" fill="#c8c8cb"/>
<rect x="240.50" y="220.24" width="5.20" height="4.85" fill="#c8c8cb"/>
<rect x="246.84" y="220.24" width="5.20" height="4.85" fill="#c8c8cb"/>
<rect x="253.18" y="220.24" width="5.20" height="4.85" fill="#c8c8cb"/>
<rect x="145.40" y="226.05" width="5.20" height="4.85" fill="#c8c8cb"/>
<rect x="151.74" y="226.05" width="5.20" height="4.85" fill="#c8c8cb"/>
<rect x="158.08" y="226.05" width="5.20" height="4.85" fill="#36a937"/>
<rect x="164.42" y="226.05" width="5.20" height="4.85" fill="#c8c8cb"/>
<rect x="170.76" y="226.05" width="5.20" height="4.85" fill="#c8c8cb"/>
<rect x="177.10" y="226.05" width="5.20" height="4.85" fill="#c8c8cb"/>
<rect x="183.44" y="226.05" width="5.20" height="4.85" fill="#c8c8cb"/>
<rect x="189.78" y="226.05" width="5.20" height="4.85" fill="#c8c8cb"/>
<rect x="196.12" y="226.05" width="5.20" height="4.85" fill="#c8c8cb"/>
<rect x="202.46" y="226.05" width="5.20" height="4.85" fill="#c8c8cb"/>
<rect x="208.80" y="226.05" width="5.20" height="4.85" fill="#36a937"/>
<rect x="215.14" y="226.05" width="5.20" height="4.85" fill="#1d4790"/>
<rect x="221.48" y="226.05" width="5.20" height="4.85" fill="#c8c8cb"/>
<rect x="227.82" y="226.05" width="5.20" height="4.85" fill="#c8c8cb"/>
<rect x="234.16" y="226.05" width="5.20" height="4.85" fill="#c8c8cb"/>
<rect x="240.50" y="226.05" width="5.20" height="4.85" fill="#c8c8cb"/>
<rect x="246.84" y="226.05" width="5.20" height="4.85" fill="#c8c8cb"/>
<rect x="253.18" y="226.05" width="5.20" height="4.85" fill="#c8c8cb"/>
<rect x="145.40" y="231.86" width="5.20" height="4.85" fill="#c8c8cb"/>
<rect x="151.74" y="231.86" width="5.20" height="4.85" fill="#c8c8cb"/>
<rect x="158.08" y="231.86" width="5.20" height="4.85" fill="#c8c8cb"/>
<rect x="164.42" y="231.86" width="5.20" height="4.85" fill="#c8c8cb"/>
<rect x="170.76" y="231.86" width="5.20" height="4.85" fill="#36a937"/>
<rect x="177.10" y="231.86" width="5.20" height="4.85" fill="#c8c8cb"/>
<rect x="183.44" y="231.86" width="5.20" height="4.85" fill="#c8c8cb"/>
<rect x="189.78" y="231.86" width="5.20" height="4.85" fill="#36a937"/>
<rect x="196.12" y="231.86" width="5.20" height="4.85" fill="#c8c8cb"/>
<rect x="202.46" y="231.86" width="5.20" height="4.85" fill="#c8c8cb"/>
<rect x="208.80" y="231.86" width="5.20" height="4.85" fill="#c8c8cb"/>
<rect x="215.14" y="231.86" width="5.20" height="4.85" fill="#c8c8cb"/>
<rect x="221.48" y="231.86" width="5.20" height="4.85" fill="#c8c8cb"/>
<rect x="227.82" y="231.86" width="5.20" height="4.85" fill="#36a937"/>
<rect x="234.16" y="231.86" width="5.20" height="4.85" fill="#c8c8cb"/>
<rect x="240.50" y="231.86" width="5.20" height="4.85" fill="#c8c8cb"/>
<rect x="246.84" y="231.86" width="5.20" height="4.85" fill="#c8c8cb"/>
<rect x="253.18" y="231.86" width="5.20" height="4.85" fill="#c8c8cb"/>
<rect x="145.40" y="237.67" width="5.20" height="4.85" fill="#c8c8cb"/>
<rect x="151.74" y="237.67" width="5.20" height="4.85" fill="#c8c8cb"/>
<rect x="158.08" y="237.67" width="5.20" height="4.85" fill="#c8c8cb"/>
<rect x="164.42" y="237.67" width="5.20" height="4.85" fill="#c8c8cb"/>
<rect x="170.76" y="237.67" width="5.20" height="4.85" fill="#c8c8cb"/>
<rect x="177.10" y="237.67" width="5.20" height="4.85" fill="#c8c8cb"/>
<rect x="183.44" y="237.67" width="5.20" height="4.85" fill="#c8c8cb"/>
<rect x="189.78" y="237.67" width="5.20" height="4.85" fill="#c8c8cb"/>
<rect x="196.12" y="237.67" width="5.20" height="4.85" fill="#c8c8cb"/>
<rect x="202.46" y="237.67" width="5.20" height="4.85" fill="#c8c8cb"/>
<rect x="208.80" y="237.67" width="5.20" height="4.85" fill="#c8c8cb"/>
<rect x="215.14" y="237.67" width="5.20" height="4.85" fill="#c8c8cb"/>
<rect x="221.48" y="237.67" width="5.20" height="4.85" fill="#36a937"/>
<rect x="227.82" y="237.67" width="5.20" height="4.85" fill="#36a937"/>
<rect x="234.16" y="237.67" width="5.20" height="4.85" fill="#c8c8cb"/>
<rect x="240.50" y="237.67" width="5.20" height="4.85" fill="#c8c8cb"/>
<rect x="246.84" y="237.67" width="5.20" height="4.85" fill="#c8c8cb"/>
<rect x="253.18" y="237.67" width="5.20" height="4.85" fill="#c8c8cb"/>
<rect x="145.40" y="243.48" width="5.20" height="4.85" fill="#c8c8cb"/>
<rect x="151.74" y="243.48" width="5.20" height="4.85" fill="#c8c8cb"/>
<rect x="158.08" y="243.48" width="5.20" height="4.85" fill="#36a937"/>
<rect x="164.42" y="243.48" width="5.20" height="4.85" fill="#c8c8cb"/>
<rect x="170.76" y="243.48" width="5.20" height="4.85" fill="#c8c8cb"/>
<rect x="177.10" y="243.48" width="5.20" height="4.85" fill="#f7880f"/>
<rect x="183.44" y="243.48" width="5.20" height="4.85" fill="#36a937"/>
<rect x="189.78" y="243.48" width="5.20" height="4.85" fill="#c8c8cb"/>
<rect x="196.12" y="243.48" width="5.20" height="4.85" fill="#c8c8cb"/>
<rect x="202.46" y="243.48" width="5.20" height="4.85" fill="#c8c8cb"/>
<rect x="208.80" y="243.48" width="5.20" height="4.85" fill="#c8c8cb"/>
<rect x="215.14" y="243.48" width="5.20" height="4.85" fill="#c8c8cb"/>
<rect x="221.48" y="243.48" width="5.20" height="4.85" fill="#c8c8cb"/>
<rect x="227.82" y="243.48" width="5.20" height="4.85" fill="#c8c8cb"/>
<rect x="234.16" y="243.48" width="5.20" height="4.85" fill="#c8c8cb"/>
<rect x="240.50" y="243.48" width="5.20" height="4.85" fill="#c8c8cb"/>
<rect x="246.84" y="243.48" width="5.20" height="4.85" fill="#c8c8cb"/>
<rect x="253.18" y="243.48" width="5.20" height="4.85" fill="#c8c8cb"/>
<rect x="145.40" y="249.29" width="5.20" height="4.85" fill="#36a937"/>
<rect x="151.74" y="249.29" width="5.20" height="4.85" fill="#c8c8cb"/>
<rect x="158.08" y="249.29" width="5.20" height="4.85" fill="#c8c8cb"/>
<rect x="164.42" y="249.29" width="5.20" height="4.85" fill="#c8c8cb"/>
<rect x="170.76" y="249.29" width="5.20" height="4.85" fill="#c8c8cb"/>
<rect x="177.10" y="249.29" width="5.20" height="4.85" fill="#c8c8cb"/>
<rect x="183.44" y="249.29" width="5.20" height="4.85" fill="#c8c8cb"/>
<rect x="189.78" y="249.29" width="5.20" height="4.85" fill="#c8c8cb"/>
<rect x="196.12" y="249.29" width="5.20" height="4.85" fill="#c8c8cb"/>
<rect x="202.46" y="249.29" width="5.20" height="4.85" fill="#36a937"/>
<rect x="208.80" y="249.29" width="5.20" height="4.85" fill="#c8c8cb"/>
<rect x="215.14" y="249.29" width="5.20" height="4.85" fill="#c8c8cb"/>
<rect x="221.48" y="249.29" width="5.20" height="4.85" fill="#c8c8cb"/>
<rect x="227.82" y="249.29" width="5.20" height="4.85" fill="#c8c8cb"/>
<rect x="234.16" y="249.29" width="5.20" height="4.85" fill="#c8c8cb"/>
<rect x="240.50" y="249.29" width="5.20" height="4.85" fill="#c8c8cb"/>
<rect x="246.84" y="249.29" width="5.20" height="4.85" fill="#c8c8cb"/>
<rect x="253.18" y="249.29" width="5.20" height="4.85" fill="#36a937"/>
<rect x="346.10" y="79.00" width="5.05" height="5.00" fill="#c8c8cb"/>
<rect x="351.89" y="79.00" width="5.05" height="5.00" fill="#c8c8cb"/>
<rect x="357.68" y="79.00" width="5.05" height="5.00" fill="#c8c8cb"/>
<rect x="363.47" y="79.00" width="5.05" height="5.00" fill="#c8c8cb"/>
<rect x="369.26" y="79.00" width="5.05" height="5.00" fill="#c8c8cb"/>
<rect x="375.05" y="79.00" width="5.05" height="5.00" fill="#c8c8cb"/>
<rect x="380.84" y="79.00" width="5.05" height="5.00" fill="#c8c8cb"/>
<rect x="386.63" y="79.00" width="5.05" height="5.00" fill="#c8c8cb"/>
<rect x="392.42" y="79.00" width="5.05" height="5.00" fill="#c8c8cb"/>
<rect x="398.21" y="79.00" width="5.05" height="5.00" fill="#c8c8cb"/>
<rect x="404.00" y="79.00" width="5.05" height="5.00" fill="#c8c8cb"/>
<rect x="409.79" y="79.00" width="5.05" height="5.00" fill="#c8c8cb"/>
<rect x="415.58" y="79.00" width="5.05" height="5.00" fill="#c8c8cb"/>
<rect x="421.37" y="79.00" width="5.05" height="5.00" fill="#c8c8cb"/>
<rect x="427.16" y="79.00" width="5.05" height="5.00" fill="#c8c8cb"/>
<rect x="432.95" y="79.00" width="5.05" height="5.00" fill="#c8c8cb"/>
<rect x="438.74" y="79.00" width="5.05" height="5.00" fill="#c8c8cb"/>
<rect x="444.53" y="79.00" width="5.05" height="5.00" fill="#c8c8cb"/>
<rect x="450.32" y="79.00" width="5.05" height="5.00" fill="#c8c8cb"/>
<rect x="456.11" y="79.00" width="5.05" height="5.00" fill="#c8c8cb"/>
<rect x="346.10" y="84.88" width="5.05" height="5.00" fill="#c8c8cb"/>
<rect x="351.89" y="84.88" width="5.05" height="5.00" fill="#c8c8cb"/>
<rect x="357.68" y="84.88" width="5.05" height="5.00" fill="#c8c8cb"/>
<rect x="363.47" y="84.88" width="5.05" height="5.00" fill="#c8c8cb"/>
<rect x="369.26" y="84.88" width="5.05" height="5.00" fill="#c8c8cb"/>
<rect x="375.05" y="84.88" width="5.05" height="5.00" fill="#c8c8cb"/>
<rect x="380.84" y="84.88" width="5.05" height="5.00" fill="#c8c8cb"/>
<rect x="386.63" y="84.88" width="5.05" height="5.00" fill="#c8c8cb"/>
<rect x="392.42" y="84.88" width="5.05" height="5.00" fill="#c8c8cb"/>
<rect x="398.21" y="84.88" width="5.05" height="5.00" fill="#c8c8cb"/>
<rect x="404.00" y="84.88" width="5.05" height="5.00" fill="#c8c8cb"/>
<rect x="409.79" y="84.88" width="5.05" height="5.00" fill="#c8c8cb"/>
<rect x="415.58" y="84.88" width="5.05" height="5.00" fill="#c8c8cb"/>
<rect x="421.37" y="84.88" width="5.05" height="5.00" fill="#c8c8cb"/>
<rect x="427.16" y="84.88" width="5.05" height="5.00" fill="#c8c8cb"/>
<rect x="432.95" y="84.88" width="5.05" height="5.00" fill="#c8c8cb"/>
<rect x="438.74" y="84.88" width="5.05" height="5.00" fill="#c8c8cb"/>
<rect x="444.53" y="84.88" width="5.05" height="5.00" fill="#c8c8cb"/>
<rect x="450.32" y="84.88" width="5.05" height="5.00" fill="#c8c8cb"/>
<rect x="456.11" y="84.88" width="5.05" height="5.00" fill="#c8c8cb"/>
<rect x="346.10" y="90.75" width="5.05" height="5.00" fill="#c8c8cb"/>
<rect x="351.89" y="90.75" width="5.05" height="5.00" fill="#c8c8cb"/>
<rect x="357.68" y="90.75" width="5.05" height="5.00" fill="#36a937"/>
<rect x="363.47" y="90.75" width="5.05" height="5.00" fill="#c8c8cb"/>
<rect x="369.26" y="90.75" width="5.05" height="5.00" fill="#c8c8cb"/>
<rect x="375.05" y="90.75" width="5.05" height="5.00" fill="#c8c8cb"/>
<rect x="380.84" y="90.75" width="5.05" height="5.00" fill="#c8c8cb"/>
<rect x="386.63" y="90.75" width="5.05" height="5.00" fill="#c8c8cb"/>
<rect x="392.42" y="90.75" width="5.05" height="5.00" fill="#c8c8cb"/>
<rect x="398.21" y="90.75" width="5.05" height="5.00" fill="#c8c8cb"/>
<rect x="404.00" y="90.75" width="5.05" height="5.00" fill="#c8c8cb"/>
<rect x="409.79" y="90.75" width="5.05" height="5.00" fill="#c8c8cb"/>
<rect x="415.58" y="90.75" width="5.05" height="5.00" fill="#c8c8cb"/>
<rect x="421.37" y="90.75" width="5.05" height="5.00" fill="#c8c8cb"/>
<rect x="427.16" y="90.75" width="5.05" height="5.00" fill="#c8c8cb"/>
<rect x="432.95" y="90.75" width="5.05" height="5.00" fill="#c8c8cb"/>
<rect x="438.74" y="90.75" width="5.05" height="5.00" fill="#c8c8cb"/>
<rect x="444.53" y="90.75" width="5.05" height="5.00" fill="#c8c8cb"/>
<rect x="450.32" y="90.75" width="5.05" height="5.00" fill="#c8c8cb"/>
<rect x="456.11" y="90.75" width="5.05" height="5.00" fill="#c8c8cb"/>
<rect x="346.10" y="96.62" width="5.05" height="5.00" fill="#c8c8cb"/>
<rect x="351.89" y="96.62" width="5.05" height="5.00" fill="#c8c8cb"/>
<rect x="357.68" y="96.62" width="5.05" height="5.00" fill="#c8c8cb"/>
<rect x="363.47" y="96.62" width="5.05" height="5.00" fill="#c8c8cb"/>
<rect x="369.26" y="96.62" width="5.05" height="5.00" fill="#c8c8cb"/>
<rect x="375.05" y="96.62" width="5.05" height="5.00" fill="#c8c8cb"/>
<rect x="380.84" y="96.62" width="5.05" height="5.00" fill="#0a0a0a"/>
<rect x="386.63" y="96.62" width="5.05" height="5.00" fill="#c8c8cb"/>
<rect x="392.42" y="96.62" width="5.05" height="5.00" fill="#c8c8cb"/>
<rect x="398.21" y="96.62" width="5.05" height="5.00" fill="#c8c8cb"/>
<rect x="404.00" y="96.62" width="5.05" height="5.00" fill="#c8c8cb"/>
<rect x="409.79" y="96.62" width="5.05" height="5.00" fill="#c8c8cb"/>
<rect x="415.58" y="96.62" width="5.05" height="5.00" fill="#c8c8cb"/>
<rect x="421.37" y="96.62" width="5.05" height="5.00" fill="#c8c8cb"/>
<rect x="427.16" y="96.62" width="5.05" height="5.00" fill="#c8c8cb"/>
<rect x="432.95" y="96.62" width="5.05" height="5.00" fill="#c8c8cb"/>
<rect x="438.74" y="96.62" width="5.05" height="5.00" fill="#c8c8cb"/>
<rect x="444.53" y="96.62" width="5.05" height="5.00" fill="#c8c8cb"/>
<rect x="450.32" y="96.62" width="5.05" height="5.00" fill="#c8c8cb"/>
<rect x="456.11" y="96.62" width="5.05" height="5.00" fill="#c8c8cb"/>
<rect x="346.10" y="102.50" width="5.05" height="5.00" fill="#c8c8cb"/>
<rect x="351.89" y="102.50" width="5.05" height="5.00" fill="#c8c8cb"/>
<rect x="357.68" y="102.50" width="5.05" height="5.00" fill="#c8c8cb"/>
<rect x="363.47" y="102.50" width="5.05" height="5.00" fill="#c8c8cb"/>
<rect x="369.26" y="102.50" width="5.05" height="5.00" fill="#c8c8cb"/>
<rect x="375.05" y="102.50" width="5.05" height="5.00" fill="#c8c8cb"/>
<rect x="380.84" y="102.50" width="5.05" height="5.00" fill="#c8c8cb"/>
<rect x="386.63" y="102.50" width="5.05" height="5.00" fill="#c8c8cb"/>
<rect x="392.42" y="102.50" width="5.05" height="5.00" fill="#c8c8cb"/>
<rect x="398.21" y="102.50" width="5.05" height="5.00" fill="#c8c8cb"/>
<rect x="404.00" y="102.50" width="5.05" height="5.00" fill="#c8c8cb"/>
<rect x="409.79" y="102.50" width="5.05" height="5.00" fill="#c8c8cb"/>
<rect x="415.58" y="102.50" width="5.05" height="5.00" fill="#c8c8cb"/>
<rect x="421.37" y="102.50" width="5.05" height="5.00" fill="#c8c8cb"/>
<rect x="427.16" y="102.50" width="5.05" height="5.00" fill="#c8c8cb"/>
<rect x="432.95" y="102.50" width="5.05" height="5.00" fill="#c8c8cb"/>
<rect x="438.74" y="102.50" width="5.05" height="5.00" fill="#c8c8cb"/>
<rect x="444.53" y="102.50" width="5.05" height="5.00" fill="#c8c8cb"/>
<rect x="450.32" y="102.50" width="5.05" height="5.00" fill="#c8c8cb"/>
<rect x="456.11" y="102.50" width="5.05" height="5.00" fill="#c8c8cb"/>
<rect x="346.10" y="108.38" width="5.05" height="5.00" fill="#c8c8cb"/>
<rect x="351.89" y="108.38" width="5.05" height="5.00" fill="#c8c8cb"/>
<rect x="357.68" y="108.38" width="5.05" height="5.00" fill="#c8c8cb"/>
<rect x="363.47" y="108.38" width="5.05" height="5.00" fill="#c8c8cb"/>
<rect x="369.26" y="108.38" width="5.05" height="5.00" fill="#c8c8cb"/>
<rect x="375.05" y="108.38" width="5.05" height="5.00" fill="#c8c8cb"/>
<rect x="380.84" y="108.38" width="5.05" height="5.00" fill="#c8c8cb"/>
<rect x="386.63" y="108.38" width="5.05" height="5.00" fill="#c8c8cb"/>
<rect x="392.42" y="108.38" width="5.05" height="5.00" fill="#c8c8cb"/>
<rect x="398.21" y="108.38" width="5.05" height="5.00" fill="#c8c8cb"/>
<rect x="404.00" y="108.38" width="5.05" height="5.00" fill="#c8c8cb"/>
<rect x="409.79" y="108.38" width="5.05" height="5.00" fill="#c8c8cb"/>
<rect x="415.58" y="108.38" width="5.05" height="5.00" fill="#c8c8cb"/>
<rect x="421.37" y="108.38" width="5.05" height="5.00" fill="#c8c8cb"/>
<rect x="427.16" y="108.38" width="5.05" height="5.00" fill="#c8c8cb"/>
<rect x="432.95" y="108.38" width="5.05" height="5.00" fill="#c8c8cb"/>
<rect x="438.74" y="108.38" width="5.05" height="5.00" fill="#c8c8cb"/>
<rect x="444.53" y="108.38" width="5.05" height="5.00" fill="#c8c8cb"/>
<rect x="450.32" y="108.38" width="5.05" height="5.00" fill="#c8c8cb"/>
<rect x="456.11" y="108.38" width="5.05" height="5.00" fill="#c8c8cb"/>
<rect x="346.10" y="114.25" width="5.05" height="5.00" fill="#36a937"/>
<rect x="351.89" y="114.25" width="5.05" height="5.00" fill="#c8c8cb"/>
<rect x="357.68" y="114.25" width="5.05" height="5.00" fill="#c8c8cb"/>
<rect x="363.47" y="114.25" width="5.05" height="5.00" fill="#c8c8cb"/>
<rect x="369.26" y="114.25" width="5.05" height="5.00" fill="#c8c8cb"/>
<rect x="375.05" y="114.25" width="5.05" height="5.00" fill="#c8c8cb"/>
<rect x="380.84" y="114.25" width="5.05" height="5.00" fill="#36a937"/>
<rect x="386.63" y="114.25" width="5.05" height="5.00" fill="#5b2586"/>
<rect x="392.42" y="114.25" width="5.05" height="5.00" fill="#c8c8cb"/>
<rect x="398.21" y="114.25" width="5.05" height="5.00" fill="#c8c8cb"/>
<rect x="404.00" y="114.25" width="5.05" height="5.00" fill="#c8c8cb"/>
<rect x="409.79" y="114.25" width="5.05" height="5.00" fill="#c8c8cb"/>
<rect x="415.58" y="114.25" width="5.05" height="5.00" fill="#c8c8cb"/>
<rect x="421.37" y="114.25" width="5.05" height="5.00" fill="#c8c8cb"/>
<rect x="427.16" y="114.25" width="5.05" height="5.00" fill="#c8c8cb"/>
<rect x="432.95" y="114.25" width="5.05" height="5.00" fill="#c8c8cb"/>
<rect x="438.74" y="114.25" width="5.05" height="5.00" fill="#c8c8cb"/>
<rect x="444.53" y="114.25" width="5.05" height="5.00" fill="#c8c8cb"/>
<rect x="450.32" y="114.25" width="5.05" height="5.00" fill="#c8c8cb"/>
<rect x="456.11" y="114.25" width="5.05" height="5.00" fill="#c8c8cb"/>
<rect x="346.10" y="120.12" width="5.05" height="5.00" fill="#c8c8cb"/>
<rect x="351.89" y="120.12" width="5.05" height="5.00" fill="#c8c8cb"/>
<rect x="357.68" y="120.12" width="5.05" height="5.00" fill="#c8c8cb"/>
<rect x="363.47" y="120.12" width="5.05" height="5.00" fill="#c8c8cb"/>
<rect x="369.26" y="120.12" width="5.05" height="5.00" fill="#c8c8cb"/>
<rect x="375.05" y="120.12" width="5.05" height="5.00" fill="#c8c8cb"/>
<rect x="380.84" y="120.12" width="5.05" height="5.00" fill="#c8c8cb"/>
<rect x="386.63" y="120.12" width="5.05" height="5.00" fill="#c8c8cb"/>
<rect x="392.42" y="120.12" width="5.05" height="5.00" fill="#c8c8cb"/>
<rect x="398.21" y="120.12" width="5.05" height="5.00" fill="#c8c8cb"/>
<rect x="404.00" y="120.12" width="5.05" height="5.00" fill="#c8c8cb"/>
<rect x="409.79" y="120.12" width="5.05" height="5.00" fill="#c8c8cb"/>
<rect x="415.58" y="120.12" width="5.05" height="5.00" fill="#c8c8cb"/>
<rect x="421.37" y="120.12" width="5.05" height="5.00" fill="#c8c8cb"/>
<rect x="427.16" y="120.12" width="5.05" height="5.00" fill="#c8c8cb"/>
<rect x="432.95" y="120.12" width="5.05" height="5.00" fill="#c8c8cb"/>
<rect x="438.74" y="120.12" width="5.05" height="5.00" fill="#c8c8cb"/>
<rect x="444.53" y="120.12" width="5.05" height="5.00" fill="#c8c8cb"/>
<rect x="450.32" y="120.12" width="5.05" height="5.00" fill="#c8c8cb"/>
<rect x="456.11" y="120.12" width="5.05" height="5.00" fill="#c8c8cb"/>
<rect x="346.10" y="126.00" width="5.05" height="5.00" fill="#c8c8cb"/>
<rect x="351.89" y="126.00" width="5.05" height="5.00" fill="#c8c8cb"/>
<rect x="357.68" y="126.00" width="5.05" height="5.00" fill="#c8c8cb"/>
<rect x="363.47" y="126.00" width="5.05" height="5.00" fill="#c8c8cb"/>
<rect x="369.26" y="126.00" width="5.05" height="5.00" fill="#c8c8cb"/>
<rect x="375.05" y="126.00" width="5.05" height="5.00" fill="#c8c8cb"/>
<rect x="380.84" y="126.00" width="5.05" height="5.00" fill="#c8c8cb"/>
<rect x="386.63" y="126.00" width="5.05" height="5.00" fill="#c8c8cb"/>
<rect x="392.42" y="126.00" width="5.05" height="5.00" fill="#36a937"/>
<rect x="398.21" y="126.00" width="5.05" height="5.00" fill="#36a937"/>
<rect x="404.00" y="126.00" width="5.05" height="5.00" fill="#c8c8cb"/>
<rect x="409.79" y="126.00" width="5.05" height="5.00" fill="#c8c8cb"/>
<rect x="415.58" y="126.00" width="5.05" height="5.00" fill="#c8c8cb"/>
<rect x="421.37" y="126.00" width="5.05" height="5.00" fill="#c8c8cb"/>
<rect x="427.16" y="126.00" width="5.05" height="5.00" fill="#c8c8cb"/>
<rect x="432.95" y="126.00" width="5.05" height="5.00" fill="#c8c8cb"/>
<rect x="438.74" y="126.00" width="5.05" height="5.00" fill="#c8c8cb"/>
<rect x="444.53" y="126.00" width="5.05" height="5.00" fill="#c8c8cb"/>
<rect x="450.32" y="126.00" width="5.05" height="5.00" fill="#c8c8cb"/>
<rect x="456.11" y="126.00" width="5.05" height="5.00" fill="#c8c8cb"/>
<rect x="346.10" y="131.88" width="5.05" height="5.00" fill="#c8c8cb"/>
<rect x="351.89" y="131.88" width="5.05" height="5.00" fill="#c8c8cb"/>
<rect x="357.68" y="131.88" width="5.05" height="5.00" fill="#c8c8cb"/>
<rect x="363.47" y="131.88" width="5.05" height="5.00" fill="#c8c8cb"/>
<rect x="369.26" y="131.88" width="5.05" height="5.00" fill="#c8c8cb"/>
<rect x="375.05" y="131.88" width="5.05" height="5.00" fill="#c8c8cb"/>
<rect x="380.84" y="131.88" width="5.05" height="5.00" fill="#c8c8cb"/>
<rect x="386.63" y="131.88" width="5.05" height="5.00" fill="#c8c8cb"/>
<rect x="392.42" y="131.88" width="5.05" height="5.00" fill="#36a937"/>
<rect x="398.21" y="131.88" width="5.05" height="5.00" fill="#c8c8cb"/>
<rect x="404.00" y="131.88" width="5.05" height="5.00" fill="#36a937"/>
<rect x="409.79" y="131.88" width="5.05" height="5.00" fill="#c8c8cb"/>
<rect x="415.58" y="131.88" width="5.05" height="5.00" fill="#c8c8cb"/>
<rect x="421.37" y="131.88" width="5.05" height="5.00" fill="#c8c8cb"/>
<rect x="427.16" y="131.88" width="5.05" height="5.00" fill="#c8c8cb"/>
<rect x="432.95" y="131.88" width="5.05" height="5.00" fill="#c8c8cb"/>
<rect x="438.74" y="131.88" width="5.05" height="5.00" fill="#c8c8cb"/>
<rect x="444.53" y="131.88" width="5.05" height="5.00" fill="#c8c8cb"/>
<rect x="450.32" y="131.88" width="5.05" height="5.00" fill="#c8c8cb"/>
<rect x="456.11" y="131.88" width="5.05" height="5.00" fill="#c8c8cb"/>
<rect x="346.10" y="137.75" width="5.05" height="5.00" fill="#c8c8cb"/>
<rect x="351.89" y="137.75" width="5.05" height="5.00" fill="#c8c8cb"/>
<rect x="357.68" y="137.75" width="5.05" height="5.00" fill="#c8c8cb"/>
<rect x="363.47" y="137.75" width="5.05" height="5.00" fill="#c8c8cb"/>
<rect x="369.26" y="137.75" width="5.05" height="5.00" fill="#c8c8cb"/>
<rect x="375.05" y="137.75" width="5.05" height="5.00" fill="#c8c8cb"/>
<rect x="380.84" y="137.75" width="5.05" height="5.00" fill="#0a0a0a"/>
<rect x="386.63" y="137.75" width="5.05" height="5.00" fill="#c8c8cb"/>
<rect x="392.42" y="137.75" width="5.05" height="5.00" fill="#c8c8cb"/>
<rect x="398.21" y="137.75" width="5.05" height="5.00" fill="#c8c8cb"/>
<rect x="404.00" y="137.75" width="5.05" height="5.00" fill="#c8c8cb"/>
<rect x="409.79" y="137.75" width="5.05" height="5.00" fill="#c8c8cb"/>
<rect x="415.58" y="137.75" width="5.05" height="5.00" fill="#c8c8cb"/>
<rect x="421.37" y="137.75" width="5.05" height="5.00" fill="#c8c8cb"/>
<rect x="427.16" y="137.75" width="5.05" height="5.00" fill="#c8c8cb"/>
<rect x="432.95" y="137.75" width="5.05" height="5.00" fill="#c8c8cb"/>
<rect x="438.74" y="137.75" width="5.05" height="5.00" fill="#c8c8cb"/>
<rect x="444.53" y="137.75" width="5.05" height="5.00" fill="#c8c8cb"/>
<rect x="450.32" y="137.75" width="5.05" height="5.00" fill="#c8c8cb"/>
<rect x="456.11" y="137.75" width="5.05" height="5.00" fill="#c8c8cb"/>
<rect x="346.10" y="143.62" width="5.05" height="5.00" fill="#36a937"/>
<rect x="351.89" y="143.62" width="5.05" height="5.00" fill="#36a937"/>
<rect x="357.68" y="143.62" width="5.05" height="5.00" fill="#0a0a0a"/>
<rect x="363.47" y="143.62" width="5.05" height="5.00" fill="#36a937"/>
<rect x="369.26" y="143.62" width="5.05" height="5.00" fill="#36a937"/>
<rect x="375.05" y="143.62" width="5.05" height="5.00" fill="#36a937"/>
<rect x="380.84" y="143.62" width="5.05" height="5.00" fill="#c8c8cb"/>
<rect x="386.63" y="143.62" width="5.05" height="5.00" fill="#c8c8cb"/>
<rect x="392.42" y="143.62" width="5.05" height="5.00" fill="#c8c8cb"/>
<rect x="398.21" y="143.62" width="5.05" height="5.00" fill="#c8c8cb"/>
<rect x="404.00" y="143.62" width="5.05" height="5.00" fill="#c8c8cb"/>
<rect x="409.79" y="143.62" width="5.05" height="5.00" fill="#c8c8cb"/>
<rect x="415.58" y="143.62" width="5.05" height="5.00" fill="#c8c8cb"/>
<rect x="421.37" y="143.62" width="5.05" height="5.00" fill="#c8c8cb"/>
<rect x="427.16" y="143.62" width="5.05" height="5.00" fill="#c8c8cb"/>
<rect x="432.95" y="143.62" width="5.05" height="5.00" fill="#c8c8cb"/>
<rect x="438.74" y="143.62" width="5.05" height="5.00" fill="#c8c8cb"/>
<rect x="444.53" y="143.62" width="5.05" height="5.00" fill="#c8c8cb"/>
<rect x="450.32" y="143.62" width="5.05" height="5.00" fill="#c8c8cb"/>
<rect x="456.11" y="143.62" width="5.05" height="5.00" fill="#c8c8cb"/>
<rect x="346.10" y="149.50" width="5.05" height="5.00" fill="#c8c8cb"/>
<rect x="351.89" y="149.50" width="5.05" height="5.00" fill="#c8c8cb"/>
<rect x="357.68" y="149.50" width="5.05" height="5.00" fill="#c8c8cb"/>
<rect x="363.47" y="149.50" width="5.05" height="5.00" fill="#c8c8cb"/>
<rect x="369.26" y="149.50" width="5.05" height="5.00" fill="#c8c8cb"/>
<rect x="375.05" y="149.50" width="5.05" height="5.00" fill="#c8c8cb"/>
<rect x="380.84" y="149.50" width="5.05" height="5.00" fill="#c8c8cb"/>
<rect x="386.63" y="149.50" width="5.05" height="5.00" fill="#c8c8cb"/>
<rect x="392.42" y="149.50" width="5.05" height="5.00" fill="#c8c8cb"/>
<rect x="398.21" y="149.50" width="5.05" height="5.00" fill="#c8c8cb"/>
<rect x="404.00" y="149.50" width="5.05" height="5.00" fill="#c8c8cb"/>
<rect x="409.79" y="149.50" width="5.05" height="5.00" fill="#c8c8cb"/>
<rect x="415.58" y="149.50" width="5.05" height="5.00" fill="#c8c8cb"/>
<rect x="421.37" y="149.50" width="5.05" height="5.00" fill="#c8c8cb"/>
<rect x="427.16" y="149.50" width="5.05" height="5.00" fill="#c8c8cb"/>
<rect x="432.95" y="149.50" width="5.05" height="5.00" fill="#c8c8cb"/>
<rect x="438.74" y="149.50" width="5.05" height="5.00" fill="#c8c8cb"/>
<rect x="444.53" y="149.50" width="5.05" height="5.00" fill="#c8c8cb"/>
<rect x="450.32" y="149.50" width="5.05" height="5.00" fill="#c8c8cb"/>
<rect x="456.11" y="149.50" width="5.05" height="5.00" fill="#c8c8cb"/>
<rect x="346.10" y="155.38" width="5.05" height="5.00" fill="#c8c8cb"/>
<rect x="351.89" y="155.38" width="5.05" height="5.00" fill="#c8c8cb"/>
<rect x="357.68" y="155.38" width="5.05" height="5.00" fill="#c8c8cb"/>
<rect x="363.47" y="155.38" width="5.05" height="5.00" fill="#c8c8cb"/>
<rect x="369.26" y="155.38" width="5.05" height="5.00" fill="#c8c8cb"/>
<rect x="375.05" y="155.38" width="5.05" height="5.00" fill="#c8c8cb"/>
<rect x="380.84" y="155.38" width="5.05" height="5.00" fill="#c8c8cb"/>
<rect x="386.63" y="155.38" width="5.05" height="5.00" fill="#c8c8cb"/>
<rect x="392.42" y="155.38" width="5.05" height="5.00" fill="#c8c8cb"/>
<rect x="398.21" y="155.38" width="5.05" height="5.00" fill="#c8c8cb"/>
<rect x="404.00" y="155.38" width="5.05" height="5.00" fill="#c8c8cb"/>
<rect x="409.79" y="155.38" width="5.05" height="5.00" fill="#c8c8cb"/>
<rect x="415.58" y="155.38" width="5.05" height="5.00" fill="#c8c8cb"/>
<rect x="421.37" y="155.38" width="5.05" height="5.00" fill="#c8c8cb"/>
<rect x="427.16" y="155.38" width="5.05" height="5.00" fill="#c8c8cb"/>
<rect x="432.95" y="155.38" width="5.05" height="5.00" fill="#c8c8cb"/>
<rect x="438.74" y="155.38" width="5.05" height="5.00" fill="#c8c8cb"/>
<rect x="444.53" y="155.38" width="5.05" height="5.00" fill="#c8c8cb"/>
<rect x="450.32" y="155.38" width="5.05" height="5.00" fill="#c8c8cb"/>
<rect x="456.11" y="155.38" width="5.05" height="5.00" fill="#c8c8cb"/>
<rect x="346.10" y="161.25" width="5.05" height="5.00" fill="#c8c8cb"/>
<rect x="351.89" y="161.25" width="5.05" height="5.00" fill="#36a937"/>
<rect x="357.68" y="161.25" width="5.05" height="5.00" fill="#c8c8cb"/>
<rect x="363.47" y="161.25" width="5.05" height="5.00" fill="#c8c8cb"/>
<rect x="369.26" y="161.25" width="5.05" height="5.00" fill="#c8c8cb"/>
<rect x="375.05" y="161.25" width="5.05" height="5.00" fill="#c8c8cb"/>
<rect x="380.84" y="161.25" width="5.05" height="5.00" fill="#c8c8cb"/>
<rect x="386.63" y="161.25" width="5.05" height="5.00" fill="#c8c8cb"/>
<rect x="392.42" y="161.25" width="5.05" height="5.00" fill="#c8c8cb"/>
<rect x="398.21" y="161.25" width="5.05" height="5.00" fill="#c8c8cb"/>
<rect x="404.00" y="161.25" width="5.05" height="5.00" fill="#c8c8cb"/>
<rect x="409.79" y="161.25" width="5.05" height="5.00" fill="#c8c8cb"/>
<rect x="415.58" y="161.25" width="5.05" height="5.00" fill="#c8c8cb"/>
<rect x="421.37" y="161.25" width="5.05" height="5.00" fill="#c8c8cb"/>
<rect x="427.16" y="161.25" width="5.05" height="5.00" fill="#c8c8cb"/>
<rect x="432.95" y="161.25" width="5.05" height="5.00" fill="#c8c8cb"/>
<rect x="438.74" y="161.25" width="5.05" height="5.00" fill="#c8c8cb"/>
<rect x="444.53" y="161.25" width="5.05" height="5.00" fill="#c8c8cb"/>
<rect x="450.32" y="161.25" width="5.05" height="5.00" fill="#c8c8cb"/>
<rect x="456.11" y="161.25" width="5.05" height="5.00" fill="#c8c8cb"/>
<rect x="346.10" y="167.12" width="5.05" height="5.00" fill="#c8c8cb"/>
<rect x="351.89" y="167.12" width="5.05" height="5.00" fill="#c8c8cb"/>
<rect x="357.68" y="167.12" width="5.05" height="5.00" fill="#c8c8cb"/>
<rect x="363.47" y="167.12" width="5.05" height="5.00" fill="#c8c8cb"/>
<rect x="369.26" y="167.12" width="5.05" height="5.00" fill="#c8c8cb"/>
<rect x="375.05" y="167.12" width="5.05" height="5.00" fill="#c8c8cb"/>
<rect x="380.84" y="167.12" width="5.05" height="5.00" fill="#c8c8cb"/>
<rect x="386.63" y="167.12" width="5.05" height="5.00" fill="#c8c8cb"/>
<rect x="392.42" y="167.12" width="5.05" height="5.00" fill="#f7880f"/>
<rect x="398.21" y="167.12" width="5.05" height="5.00" fill="#c8c8cb"/>
<rect x="404.00" y="167.12" width="5.05" height="5.00" fill="#c8c8cb"/>
<rect x="409.79" y="167.12" width="5.05" height="5.00" fill="#c8c8cb"/>
<rect x="415.58" y="167.12" width="5.05" height="5.00" fill="#c8c8cb"/>
<rect x="421.37" y="167.12" width="5.05" height="5.00" fill="#c8c8cb"/>
<rect x="427.16" y="167.12" width="5.05" height="5.00" fill="#c8c8cb"/>
<rect x="432.95" y="167.12" width="5.05" height="5.00" fill="#c8c8cb"/>
<rect x="438.74" y="167.12" width="5.05" height="5.00" fill="#c8c8cb"/>
<rect x="444.53" y="167.12" width="5.05" height="5.00" fill="#c8c8cb"/>
<rect x="450.32" y="167.12" width="5.05" height="5.00" fill="#c8c8cb"/>
<rect x="456.11" y="167.12" width="5.05" height="5.00" fill="#c8c8cb"/>
<rect x="346.10" y="173.00" width="5.05" height="5.00" fill="#c8c8cb"/>
<rect x="351.89" y="173.00" width="5.05" height="5.00" fill="#36a937"/>
<rect x="357.68" y="173.00" width="5.05" height="5.00" fill="#c8c8cb"/>
<rect x="363.47" y="173.00" width="5.05" height="5.00" fill="#c8c8cb"/>
<rect x="369.26" y="173.00" width="5.05" height="5.00" fill="#c8c8cb"/>
<rect x="375.05" y="173.00" width="5.05" height="5.00" fill="#c8c8cb"/>
<rect x="380.84" y="173.00" width="5.05" height="5.00" fill="#36a937"/>
<rect x="386.63" y="173.00" width="5.05" height="5.00" fill="#c8c8cb"/>
<rect x="392.42" y="173.00" width="5.05" height="5.00" fill="#c8c8cb"/>
<rect x="398.21" y="173.00" width="5.05" height="5.00" fill="#c8c8cb"/>
<rect x="404.00" y="173.00" width="5.05" height="5.00" fill="#c8c8cb"/>
<rect x="409.79" y="173.00" width="5.05" height="5.00" fill="#c8c8cb"/>
<rect x="415.58" y="173.00" width="5.05" height="5.00" fill="#c8c8cb"/>
<rect x="421.37" y="173.00" width="5.05" height="5.00" fill="#c8c8cb"/>
<rect x="427.16" y="173.00" width="5.05" height="5.00" fill="#c8c8cb"/>
<rect x="432.95" y="173.00" width="5.05" height="5.00" fill="#c8c8cb"/>
<rect x="438.74" y="173.00" width="5.05" height="5.00" fill="#c8c8cb"/>
<rect x="444.53" y="173.00" width="5.05" height="5.00" fill="#c8c8cb"/>
<rect x="450.32" y="173.00" width="5.05" height="5.00" fill="#c8c8cb"/>
<rect x="456.11" y="173.00" width="5.05" height="5.00" fill="#c8c8cb"/>
<rect x="346.10" y="178.88" width="5.05" height="5.00" fill="#c8c8cb"/>
<rect x="351.89" y="178.88" width="5.05" height="5.00" fill="#c8c8cb"/>
<rect x="357.68" y="178.88" width="5.05" height="5.00" fill="#c8c8cb"/>
<rect x="363.47" y="178.88" width="5.05" height="5.00" fill="#c8c8cb"/>
<rect x="369.26" y="178.88" width="5.05" height="5.00" fill="#c8c8cb"/>
<rect x="375.05" y="178.88" width="5.05" height="5.00" fill="#c8c8cb"/>
<rect x="380.84" y="178.88" width="5.05" height="5.00" fill="#c8c8cb"/>
<rect x="386.63" y="178.88" width="5.05" height="5.00" fill="#c8c8cb"/>
<rect x="392.42" y="178.88" width="5.05" height="5.00" fill="#c8c8cb"/>
<rect x="398.21" y="178.88" width="5.05" height="5.00" fill="#c8c8cb"/>
<rect x="404.00" y="178.88" width="5.05" height="5.00" fill="#c8c8cb"/>
<rect x="409.79" y="178.88" width="5.05" height="5.00" fill="#c8c8cb"/>
<rect x="415.58" y="178.88" width="5.05" height="5.00" fill="#c8c8cb"/>
<rect x="421.37" y="178.88" width="5.05" height="5.00" fill="#c8c8cb"/>
<rect x="427.16" y="178.88" width="5.05" height="5.00" fill="#c8c8cb"/>
<rect x="432.95" y="178.88" width="5.05" height="5.00" fill="#c8c8cb"/>
<rect x="438.74" y="178.88" width="5.05" height="5.00" fill="#c8c8cb"/>
<rect x="444.53" y="178.88" width="5.05" height="5.00" fill="#c8c8cb"/>
<rect x="450.32" y="178.88" width="5.05" height="5.00" fill="#c8c8cb"/>
<rect x="456.11" y="178.88" width="5.05" height="5.00" fill="#c8c8cb"/>
<rect x="346.10" y="184.75" width="5.05" height="5.00" fill="#c8c8cb"/>
<rect x="351.89" y="184.75" width="5.05" height="5.00" fill="#c8c8cb"/>
<rect x="357.68" y="184.75" width="5.05" height="5.00" fill="#c8c8cb"/>
<rect x="363.47" y="184.75" width="5.05" height="5.00" fill="#36a937"/>
<rect x="369.26" y="184.75" width="5.05" height="5.00" fill="#c8c8cb"/>
<rect x="375.05" y="184.75" width="5.05" height="5.00" fill="#c8c8cb"/>
<rect x="380.84" y="184.75" width="5.05" height="5.00" fill="#c8c8cb"/>
<rect x="386.63" y="184.75" width="5.05" height="5.00" fill="#c8c8cb"/>
<rect x="392.42" y="184.75" width="5.05" height="5.00" fill="#c8c8cb"/>
<rect x="398.21" y="184.75" width="5.05" height="5.00" fill="#c8c8cb"/>
<rect x="404.00" y="184.75" width="5.05" height="5.00" fill="#c8c8cb"/>
<rect x="409.79" y="184.75" width="5.05" height="5.00" fill="#c8c8cb"/>
<rect x="415.58" y="184.75" width="5.05" height="5.00" fill="#c8c8cb"/>
<rect x="421.37" y="184.75" width="5.05" height="5.00" fill="#c8c8cb"/>
<rect x="427.16" y="184.75" width="5.05" height="5.00" fill="#c8c8cb"/>
<rect x="432.95" y="184.75" width="5.05" height="5.00" fill="#c8c8cb"/>
<rect x="438.74" y="184.75" width="5.05" height="5.00" fill="#c8c8cb"/>
<rect x="444.53" y="184.75" width="5.05" height="5.00" fill="#c8c8cb"/>
<rect x="450.32" y="184.75" width="5.05" height="5.00" fill="#c8c8cb"/>
<rect x="456.11" y="184.75" width="5.05" height="5.00" fill="#c8c8cb"/>
<rect x="346.10" y="190.62" width="5.05" height="5.00" fill="#c8c8cb"/>
<rect x="351.89" y="190.62" width="5.05" height="5.00" fill="#c8c8cb"/>
<rect x="357.68" y="190.62" width="5.05" height="5.00" fill="#c8c8cb"/>
<rect x="363.47" y="190.62" width="5.05" height="5.00" fill="#c8c8cb"/>
<rect x="369.26" y="190.62" width="5.05" height="5.00" fill="#c8c8cb"/>
<rect x="375.05" y="190.62" width="5.05" height="5.00" fill="#c8c8cb"/>
<rect x="380.84" y="190.62" width="5.05" height="5.00" fill="#c8c8cb"/>
<rect x="386.63" y="190.62" width="5.05" height="5.00" fill="#c8c8cb"/>
<rect x="392.42" y="190.62" width="5.05" height="5.00" fill="#c8c8cb"/>
<rect x="398.21" y="190.62" width="5.05" height="5.00" fill="#c8c8cb"/>
<rect x="404.00" y="190.62" width="5.05" height="5.00" fill="#c8c8cb"/>
<rect x="409.79" y="190.62" width="5.05" height="5.00" fill="#c8c8cb"/>
<rect x="415.58" y="190.62" width="5.05" height="5.00" fill="#c8c8cb"/>
<rect x="421.37" y="190.62" width="5.05" height="5.00" fill="#c8c8cb"/>
<rect x="427.16" y="190.62" width="5.05" height="5.00" fill="#c8c8cb"/>
<rect x="432.95" y="190.62" width="5.05" height="5.00" fill="#c8c8cb"/>
<rect x="438.74" y="190.62" width="5.05" height="5.00" fill="#c8c8cb"/>
<rect x="444.53" y="190.62" width="5.05" height="5.00" fill="#c8c8cb"/>
<rect x="450.32" y="190.62" width="5.05" height="5.00" fill="#c8c8cb"/>
<rect x="456.11" y="190.62" width="5.05" height="5.00" fill="#c8c8cb"/>
<rect x="346.10" y="196.50" width="5.05" height="5.00" fill="#c8c8cb"/>
<rect x="351.89" y="196.50" width="5.05" height="5.00" fill="#c8c8cb"/>
<rect x="357.68" y="196.50" width="5.05" height="5.00" fill="#c8c8cb"/>
<rect x="363.47" y="196.50" width="5.05" height="5.00" fill="#c8c8cb"/>
<rect x="369.26" y="196.50" width="5.05" height="5.00" fill="#c8c8cb"/>
<rect x="375.05" y="196.50" width="5.05" height="5.00" fill="#c8c8cb"/>
<rect x="380.84" y="196.50" width="5.05" height="5.00" fill="#c8c8cb"/>
<rect x="386.63" y="196.50" width="5.05" height="5.00" fill="#c8c8cb"/>
<rect x="392.42" y="196.50" width="5.05" height="5.00" fill="#c8c8cb"/>
<rect x="398.21" y="196.50" width="5.05" height="5.00" fill="#c8c8cb"/>
<rect x="404.00" y="196.50" width="5.05" height="5.00" fill="#c8c8cb"/>
<rect x="409.79" y="196.50" width="5.05" height="5.00" fill="#c8c8cb"/>
<rect x="415.58" y="196.50" width="5.05" height="5.00" fill="#c8c8cb"/>
<rect x="421.37" y="196.50" width="5.05" height="5.00" fill="#c8c8cb"/>
<rect x="427.16" y="196.50" width="5.05" height="5.00" fill="#c8c8cb"/>
<rect x="432.95" y="196.50" width="5.05" height="5.00" fill="#c8c8cb"/>
<rect x="438.74" y="196.50" width="5.05" height="5.00" fill="#c8c8cb"/>
<rect x="444.53" y="196.50" width="5.05" height="5.00" fill="#c8c8cb"/>
<rect x="450.32" y="196.50" width="5.05" height="5.00" fill="#c8c8cb"/>
<rect x="456.11" y="196.50" width="5.05" height="5.00" fill="#c8c8cb"/>
<rect x="346.10" y="202.38" width="5.05" height="5.00" fill="#c8c8cb"/>
<rect x="351.89" y="202.38" width="5.05" height="5.00" fill="#c8c8cb"/>
<rect x="357.68" y="202.38" width="5.05" height="5.00" fill="#c8c8cb"/>
<rect x="363.47" y="202.38" width="5.05" height="5.00" fill="#c8c8cb"/>
<rect x="369.26" y="202.38" width="5.05" height="5.00" fill="#c8c8cb"/>
<rect x="375.05" y="202.38" width="5.05" height="5.00" fill="#c8c8cb"/>
<rect x="380.84" y="202.38" width="5.05" height="5.00" fill="#36a937"/>
<rect x="386.63" y="202.38" width="5.05" height="5.00" fill="#c8c8cb"/>
<rect x="392.42" y="202.38" width="5.05" height="5.00" fill="#c8c8cb"/>
<rect x="398.21" y="202.38" width="5.05" height="5.00" fill="#c8c8cb"/>
<rect x="404.00" y="202.38" width="5.05" height="5.00" fill="#c8c8cb"/>
<rect x="409.79" y="202.38" width="5.05" height="5.00" fill="#c8c8cb"/>
<rect x="415.58" y="202.38" width="5.05" height="5.00" fill="#c8c8cb"/>
<rect x="421.37" y="202.38" width="5.05" height="5.00" fill="#c8c8cb"/>
<rect x="427.16" y="202.38" width="5.05" height="5.00" fill="#c8c8cb"/>
<rect x="432.95" y="202.38" width="5.05" height="5.00" fill="#c8c8cb"/>
<rect x="438.74" y="202.38" width="5.05" height="5.00" fill="#c8c8cb"/>
<rect x="444.53" y="202.38" width="5.05" height="5.00" fill="#c8c8cb"/>
<rect x="450.32" y="202.38" width="5.05" height="5.00" fill="#c8c8cb"/>
<rect x="456.11" y="202.38" width="5.05" height="5.00" fill="#c8c8cb"/>
<rect x="346.10" y="208.25" width="5.05" height="5.00" fill="#c8c8cb"/>
<rect x="351.89" y="208.25" width="5.05" height="5.00" fill="#c8c8cb"/>
<rect x="357.68" y="208.25" width="5.05" height="5.00" fill="#c8c8cb"/>
<rect x="363.47" y="208.25" width="5.05" height="5.00" fill="#c8c8cb"/>
<rect x="369.26" y="208.25" width="5.05" height="5.00" fill="#c8c8cb"/>
<rect x="375.05" y="208.25" width="5.05" height="5.00" fill="#c8c8cb"/>
<rect x="380.84" y="208.25" width="5.05" height="5.00" fill="#c8c8cb"/>
<rect x="386.63" y="208.25" width="5.05" height="5.00" fill="#c8c8cb"/>
<rect x="392.42" y="208.25" width="5.05" height="5.00" fill="#c8c8cb"/>
<rect x="398.21" y="208.25" width="5.05" height="5.00" fill="#c8c8cb"/>
<rect x="404.00" y="208.25" width="5.05" height="5.00" fill="#c8c8cb"/>
<rect x="409.79" y="208.25" width="5.05" height="5.00" fill="#c8c8cb"/>
<rect x="415.58" y="208.25" width="5.05" height="5.00" fill="#c8c8cb"/>
<rect x="421.37" y="208.25" width="5.05" height="5.00" fill="#c8c8cb"/>
<rect x="427.16" y="208.25" width="5.05" height="5.00" fill="#c8c8cb"/>
<rect x="432.95" y="208.25" width="5.05" height="5.00" fill="#c8c8cb"/>
<rect x="438.74" y="208.25" width="5.05" height="5.00" fill="#c8c8cb"/>
<rect x="444.53" y="208.25" width="5.05" height="5.00" fill="#c8c8cb"/>
<rect x="450.32" y="208.25" width="5.05" height="5.00" fill="#c8c8cb"/>
<rect x="456.11" y="208.25" width="5.05" height="5.00" fill="#c8c8cb"/>
<rect x="346.10" y="214.12" width="5.05" height="5.00" fill="#c8c8cb"/>
<rect x="351.89" y="214.12" width="5.05" height="5.00" fill="#c8c8cb"/>
<rect x="357.68" y="214.12" width="5.05" height="5.00" fill="#c8c8cb"/>
<rect x="363.47" y="214.12" width="5.05" height="5.00" fill="#c8c8cb"/>
<rect x="369.26" y="214.12" width="5.05" height="5.00" fill="#c8c8cb"/>
<rect x="375.05" y="214.12" width="5.05" height="5.00" fill="#c8c8cb"/>
<rect x="380.84" y="214.12" width="5.05" height="5.00" fill="#c8c8cb"/>
<rect x="386.63" y="214.12" width="5.05" height="5.00" fill="#c8c8cb"/>
<rect x="392.42" y="214.12" width="5.05" height="5.00" fill="#c8c8cb"/>
<rect x="398.21" y="214.12" width="5.05" height="5.00" fill="#c8c8cb"/>
<rect x="404.00" y="214.12" width="5.05" height="5.00" fill="#c8c8cb"/>
<rect x="409.79" y="214.12" width="5.05" height="5.00" fill="#c8c8cb"/>
<rect x="415.58" y="214.12" width="5.05" height="5.00" fill="#c8c8cb"/>
<rect x="421.37" y="214.12" width="5.05" height="5.00" fill="#36a937"/>
<rect x="427.16" y="214.12" width="5.05" height="5.00" fill="#c8c8cb"/>
<rect x="432.95" y="214.12" width="5.05" height="5.00" fill="#c8c8cb"/>
<rect x="438.74" y="214.12" width="5.05" height="5.00" fill="#c8c8cb"/>
<rect x="444.53" y="214.12" width="5.05" height="5.00" fill="#c8c8cb"/>
<rect x="450.32" y="214.12" width="5.05" height="5.00" fill="#c8c8cb"/>
<rect x="456.11" y="214.12" width="5.05" height="5.00" fill="#c8c8cb"/>
<rect x="346.10" y="220.00" width="5.05" height="5.00" fill="#36a937"/>
<rect x="351.89" y="220.00" width="5.05" height="5.00" fill="#c8c8cb"/>
<rect x="357.68" y="220.00" width="5.05" height="5.00" fill="#c8c8cb"/>
<rect x="363.47" y="220.00" width="5.05" height="5.00" fill="#c8c8cb"/>
<rect x="369.26" y="220.00" width="5.05" height="5.00" fill="#c8c8cb"/>
<rect x="375.05" y="220.00" width="5.05" height="5.00" fill="#c8c8cb"/>
<rect x="380.84" y="220.00" width="5.05" height="5.00" fill="#c8c8cb"/>
<rect x="386.63" y="220.00" width="5.05" height="5.00" fill="#c8c8cb"/>
<rect x="392.42" y="220.00" width="5.05" height="5.00" fill="#c8c8cb"/>
<rect x="398.21" y="220.00" width="5.05" height="5.00" fill="#c8c8cb"/>
<rect x="404.00" y="220.00" width="5.05" height="5.00" fill="#c8c8cb"/>
<rect x="409.79" y="220.00" width="5.05" height="5.00" fill="#c9122c"/>
<rect x="415.58" y="220.00" width="5.05" height="5.00" fill="#c8c8cb"/>
<rect x="421.37" y="220.00" width="5.05" height="5.00" fill="#c8c8cb"/>
<rect x="427.16" y="220.00" width="5.05" height="5.00" fill="#c8c8cb"/>
<rect x="432.95" y="220.00" width="5.05" height="5.00" fill="#c8c8cb"/>
<rect x="438.74" y="220.00" width="5.05" height="5.00" fill="#c8c8cb"/>
<rect x="444.53" y="220.00" width="5.05" height="5.00" fill="#c8c8cb"/>
<rect x="450.32" y="220.00" width="5.05" height="5.00" fill="#c8c8cb"/>
<rect x="456.11" y="220.00" width="5.05" height="5.00" fill="#c8c8cb"/>
<rect x="346.10" y="225.88" width="5.05" height="5.00" fill="#c8c8cb"/>
<rect x="351.89" y="225.88" width="5.05" height="5.00" fill="#c8c8cb"/>
<rect x="357.68" y="225.88" width="5.05" height="5.00" fill="#c8c8cb"/>
<rect x="363.47" y="225.88" width="5.05" height="5.00" fill="#c8c8cb"/>
<rect x="369.26" y="225.88" width="5.05" height="5.00" fill="#c8c8cb"/>
<rect x="375.05" y="225.88" width="5.05" height="5.00" fill="#c8c8cb"/>
<rect x="380.84" y="225.88" width="5.05" height="5.00" fill="#c8c8cb"/>
<rect x="386.63" y="225.88" width="5.05" height="5.00" fill="#c8c8cb"/>
<rect x="392.42" y="225.88" width="5.05" height="5.00" fill="#c8c8cb"/>
<rect x="398.21" y="225.88" width="5.05" height="5.00" fill="#c8c8cb"/>
<rect x="404.00" y="225.88" width="5.05" height="5.00" fill="#c8c8cb"/>
<rect x="409.79" y="225.88" width="5.05" height="5.00" fill="#c8c8cb"/>
<rect x="415.58" y="225.88" width="5.05" height="5.00" fill="#c8c8cb"/>
<rect x="421.37" y="225.88" width="5.05" height="5.00" fill="#c8c8cb"/>
<rect x="427.16" y="225.88" width="5.05" height="5.00" fill="#c8c8cb"/>
<rect x="432.95" y="225.88" width="5.05" height="5.00" fill="#c8c8cb"/>
<rect x="438.74" y="225.88" width="5.05" height="5.00" fill="#c8c8cb"/>
<rect x="444.53" y="225.88" width="5.05" height="5.00" fill="#c8c8cb"/>
<rect x="450.32" y="225.88" width="5.05" height="5.00" fill="#c8c8cb"/>
<rect x="456.11" y="225.88" width="5.05" height="5.00" fill="#c8c8cb"/>
<rect x="346.10" y="231.75" width="5.05" height="5.00" fill="#c8c8cb"/>
<rect x="351.89" y="231.75" width="5.05" height="5.00" fill="#c8c8cb"/>
<rect x="357.68" y="231.75" width="5.05" height="5.00" fill="#c8c8cb"/>
<rect x="363.47" y="231.75" width="5.05" height="5.00" fill="#c8c8cb"/>
<rect x="369.26" y="231.75" width="5.05" height="5.00" fill="#c8c8cb"/>
<rect x="375.05" y="231.75" width="5.05" height="5.00" fill="#c8c8cb"/>
<rect x="380.84" y="231.75" width="5.05" height="5.00" fill="#c8c8cb"/>
<rect x="386.63" y="231.75" width="5.05" height="5.00" fill="#c8c8cb"/>
<rect x="392.42" y="231.75" width="5.05" height="5.00" fill="#c8c8cb"/>
<rect x="398.21" y="231.75" width="5.05" height="5.00" fill="#c8c8cb"/>
<rect x="404.00" y="231.75" width="5.05" height="5.00" fill="#c8c8cb"/>
<rect x="409.79" y="231.75" width="5.05" height="5.00" fill="#c8c8cb"/>
<rect x="415.58" y="231.75" width="5.05" height="5.00" fill="#c8c8cb"/>
<rect x="421.37" y="231.75" width="5.05" height="5.00" fill="#c8c8cb"/>
<rect x="427.16" y="231.75" width="5.05" height="5.00" fill="#36a937"/>
<rect x="432.95" y="231.75" width="5.05" height="5.00" fill="#c8c8cb"/>
<rect x="438.74" y="231.75" width="5.05" height="5.00" fill="#c8c8cb"/>
<rect x="444.53" y="231.75" width="5.05" height="5.00" fill="#c8c8cb"/>
<rect x="450.32" y="231.75" width="5.05" height="5.00" fill="#c8c8cb"/>
<rect x="456.11" y="231.75" width="5.05" height="5.00" fill="#c8c8cb"/>
<rect x="346.10" y="237.62" width="5.05" height="5.00" fill="#c8c8cb"/>
<rect x="351.89" y="237.62" width="5.05" height="5.00" fill="#c8c8cb"/>
<rect x="357.68" y="237.62" width="5.05" height="5.00" fill="#c8c8cb"/>
<rect x="363.47" y="237.62" width="5.05" height="5.00" fill="#c8c8cb"/>
<rect x="369.26" y="237.62" width="5.05" height="5.00" fill="#c8c8cb"/>
<rect x="375.05" y="237.62" width="5.05" height="5.00" fill="#c8c8cb"/>
<rect x="380.84" y="237.62" width="5.05" height="5.00" fill="#c8c8cb"/>
<rect x="386.63" y="237.62" width="5.05" height="5.00" fill="#c8c8cb"/>
<rect x="392.42" y="237.62" width="5.05" height="5.00" fill="#c8c8cb"/>
<rect x="398.21" y="237.62" width="5.05" height="5.00" fill="#c8c8cb"/>
<rect x="404.00" y="237.62" width="5.05" height="5.00" fill="#c8c8cb"/>
<rect x="409.79" y="237.62" width="5.05" height="5.00" fill="#c8c8cb"/>
<rect x="415.58" y="237.62" width="5.05" height="5.00" fill="#c8c8cb"/>
<rect x="421.37" y="237.62" width="5.05" height="5.00" fill="#c8c8cb"/>
<rect x="427.16" y="237.62" width="5.05" height="5.00" fill="#c8c8cb"/>
<rect x="432.95" y="237.62" width="5.05" height="5.00" fill="#c8c8cb"/>
<rect x="438.74" y="237.62" width="5.05" height="5.00" fill="#c8c8cb"/>
<rect x="444.53" y="237.62" width="5.05" height="5.00" fill="#c8c8cb"/>
<rect x="450.32" y="237.62" width="5.05" height="5.00" fill="#c8c8cb"/>
<rect x="456.11" y="237.62" width="5.05" height="5.00" fill="#c8c8cb"/>
<rect x="346.10" y="243.50" width="5.05" height="5.00" fill="#c8c8cb"/>
<rect x="351.89" y="243.50" width="5.05" height="5.00" fill="#c8c8cb"/>
<rect x="357.68" y="243.50" width="5.05" height="5.00" fill="#c8c8cb"/>
<rect x="363.47" y="243.50" width="5.05" height="5.00" fill="#c8c8cb"/>
<rect x="369.26" y="243.50" width="5.05" height="5.00" fill="#c8c8cb"/>
<rect x="375.05" y="243.50" width="5.05" height="5.00" fill="#c8c8cb"/>
<rect x="380.84" y="243.50" width="5.05" height="5.00" fill="#c8c8cb"/>
<rect x="386.63" y="243.50" width="5.05" height="5.00" fill="#c8c8cb"/>
<rect x="392.42" y="243.50" width="5.05" height="5.00" fill="#c8c8cb"/>
<rect x="398.21" y="243.50" width="5.05" height="5.00" fill="#c8c8cb"/>
<rect x="404.00" y="243.50" width="5.05" height="5.00" fill="#c8c8cb"/>
<rect x="409.79" y="243.50" width="5.05" height="5.00" fill="#c8c8cb"/>
<rect x="415.58" y="243.50" width="5.05" height="5.00" fill="#c8c8cb"/>
<rect x="421.37" y="243.50" width="5.05" height="5.00" fill="#c8c8cb"/>
<rect x="427.16" y="243.50" width="5.05" height="5.00" fill="#c8c8cb"/>
<rect x="432.95" y="243.50" width="5.05" height="5.00" fill="#c8c8cb"/>
<rect x="438.74" y="243.50" width="5.05" height="5.00" fill="#c8c8cb"/>
<rect x="444.53" y="243.50" width="5.05" height="5.00" fill="#c8c8cb"/>
<rect x="450.32" y="243.50" width="5.05" height="5.00" fill="#c8c8cb"/>
<rect x="456.11" y="243.50" width="5.05" height="5.00" fill="#c8c8cb"/>
<rect x="346.10" y="249.38" width="5.05" height="5.00" fill="#c8c8cb"/>
<rect x="351.89" y="249.38" width="5.05" height="5.00" fill="#c8c8cb"/>
<rect x="357.68" y="249.38" width="5.05" height="5.00" fill="#c8c8cb"/>
<rect x="363.47" y="249.38" width="5.05" height="5.00" fill="#c8c8cb"/>
<rect x="369.26" y="249.38" width="5.05" height="5.00" fill="#c8c8cb"/>
<rect x="375.05" y="249.38" width="5.05" height="5.00" fill="#c8c8cb"/>
<rect x="380.84" y="249.38" width="5.05" height="5.00" fill="#c8c8cb"/>
<rect x="386.63" y="249.38" width="5.05" height="5.00" fill="#c8c8cb"/>
<rect x="392.42" y="249.38" width="5.05" height="5.00" fill="#c8c8cb"/>
<rect x="398.21" y="249.38" width="5.05" height="5.00" fill="#c8c8cb"/>
<rect x="404.00" y="249.38" width="5.05" height="5.00" fill="#c8c8cb"/>
<rect x="409.79" y="249.38" width="5.05" height="5.00" fill="#c8c8cb"/>
<rect x="415.58" y="249.38" width="5.05" height="5.00" fill="#c8c8cb"/>
<rect x="421.37" y="249.38" width="5.05" height="5.00" fill="#36a937"/>
<rect x="427.16" y="249.38" width="5.05" height="5.00" fill="#c8c8cb"/>
<rect x="432.95" y="249.38" width="5.05" height="5.00" fill="#c8c8cb"/>
<rect x="438.74" y="249.38" width="5.05" height="5.00" fill="#c8c8cb"/>
<rect x="444.53" y="249.38" width="5.05" height="5.00" fill="#c8c8cb"/>
<rect x="450.32" y="249.38" width="5.05" height="5.00" fill="#c8c8cb"/>
<rect x="456.11" y="249.38" width="5.05" height="5.00" fill="#c8c8cb"/>
<text x="142.40" y="85.32" font-size="6.15" text-anchor="end" fill="#262626" stroke="#262626" stroke-width="0.08" font-style="italic">NRAS</text>
<text x="342.60" y="83.60" font-size="6.15" text-anchor="end" fill="#262626" stroke="#262626" stroke-width="0.08" font-style="italic">NRAS</text>
<text x="262.00" y="85.32" font-size="6.15" text-anchor="start" fill="#262626" stroke="#262626" stroke-width="0.08">33%</text>
<text x="463.50" y="83.60" font-size="6.15" text-anchor="start" fill="#262626" stroke="#262626" stroke-width="0.08">5%</text>
<text x="142.40" y="91.13" font-size="6.15" text-anchor="end" fill="#262626" stroke="#262626" stroke-width="0.08" font-style="italic">MAP3K4</text>
<text x="342.60" y="89.47" font-size="6.15" text-anchor="end" fill="#262626" stroke="#262626" stroke-width="0.08" font-style="italic">MAP3K4</text>
<text x="262.00" y="91.13" font-size="6.15" text-anchor="start" fill="#262626" stroke="#262626" stroke-width="0.08">28%</text>
<text x="463.50" y="89.47" font-size="6.15" text-anchor="start" fill="#262626" stroke="#262626" stroke-width="0.08">0%</text>
<text x="142.40" y="96.94" font-size="6.15" text-anchor="end" fill="#262626" stroke="#262626" stroke-width="0.08" font-style="italic">KMT2C</text>
<text x="342.60" y="95.35" font-size="6.15" text-anchor="end" fill="#262626" stroke="#262626" stroke-width="0.08" font-style="italic">KMT2C</text>
<text x="262.00" y="96.94" font-size="6.15" text-anchor="start" fill="#262626" stroke="#262626" stroke-width="0.08">22%</text>
<text x="463.50" y="95.35" font-size="6.15" text-anchor="start" fill="#262626" stroke="#262626" stroke-width="0.08">5%</text>
<text x="142.40" y="102.75" font-size="6.15" text-anchor="end" fill="#262626" stroke="#262626" stroke-width="0.08" font-style="italic">ZFHX3</text>
<text x="342.60" y="101.22" font-size="6.15" text-anchor="end" fill="#262626" stroke="#262626" stroke-width="0.08" font-style="italic">ZFHX3</text>
<text x="262.00" y="102.75" font-size="6.15" text-anchor="start" fill="#262626" stroke="#262626" stroke-width="0.08">22%</text>
<text x="463.50" y="101.22" font-size="6.15" text-anchor="start" fill="#262626" stroke="#262626" stroke-width="0.08">5%</text>
<text x="142.40" y="108.56" font-size="6.15" text-anchor="end" fill="#262626" stroke="#262626" stroke-width="0.08" font-style="italic">ARID1A</text>
<text x="342.60" y="107.10" font-size="6.15" text-anchor="end" fill="#262626" stroke="#262626" stroke-width="0.08" font-style="italic">ARID1A</text>
<text x="262.00" y="108.56" font-size="6.15" text-anchor="start" fill="#262626" stroke="#262626" stroke-width="0.08">22%</text>
<text x="463.50" y="107.10" font-size="6.15" text-anchor="start" fill="#262626" stroke="#262626" stroke-width="0.08">0%</text>
<text x="142.40" y="114.37" font-size="6.15" text-anchor="end" fill="#262626" stroke="#262626" stroke-width="0.08" font-style="italic">HUWE1</text>
<text x="342.60" y="112.97" font-size="6.15" text-anchor="end" fill="#262626" stroke="#262626" stroke-width="0.08" font-style="italic">HUWE1</text>
<text x="262.00" y="114.37" font-size="6.15" text-anchor="start" fill="#262626" stroke="#262626" stroke-width="0.08">22%</text>
<text x="463.50" y="112.97" font-size="6.15" text-anchor="start" fill="#262626" stroke="#262626" stroke-width="0.08">0%</text>
<text x="142.40" y="120.18" font-size="6.15" text-anchor="end" fill="#262626" stroke="#262626" stroke-width="0.08" font-style="italic">KMT2D</text>
<text x="342.60" y="118.85" font-size="6.15" text-anchor="end" fill="#262626" stroke="#262626" stroke-width="0.08" font-style="italic">KMT2D</text>
<text x="262.00" y="120.18" font-size="6.15" text-anchor="start" fill="#262626" stroke="#262626" stroke-width="0.08">22%</text>
<text x="463.50" y="118.85" font-size="6.15" text-anchor="start" fill="#262626" stroke="#262626" stroke-width="0.08">15%</text>
<text x="142.40" y="125.99" font-size="6.15" text-anchor="end" fill="#262626" stroke="#262626" stroke-width="0.08" font-style="italic">LRP1B</text>
<text x="342.60" y="124.72" font-size="6.15" text-anchor="end" fill="#262626" stroke="#262626" stroke-width="0.08" font-style="italic">LRP1B</text>
<text x="262.00" y="125.99" font-size="6.15" text-anchor="start" fill="#262626" stroke="#262626" stroke-width="0.08">22%</text>
<text x="463.50" y="124.72" font-size="6.15" text-anchor="start" fill="#262626" stroke="#262626" stroke-width="0.08">0%</text>
<text x="142.40" y="131.81" font-size="6.15" text-anchor="end" fill="#262626" stroke="#262626" stroke-width="0.08" font-style="italic">TSHZ3</text>
<text x="342.60" y="130.60" font-size="6.15" text-anchor="end" fill="#262626" stroke="#262626" stroke-width="0.08" font-style="italic">TSHZ3</text>
<text x="262.00" y="131.81" font-size="6.15" text-anchor="start" fill="#262626" stroke="#262626" stroke-width="0.08">22%</text>
<text x="463.50" y="130.60" font-size="6.15" text-anchor="start" fill="#262626" stroke="#262626" stroke-width="0.08">10%</text>
<text x="142.40" y="137.62" font-size="6.15" text-anchor="end" fill="#262626" stroke="#262626" stroke-width="0.08" font-style="italic">BRAF</text>
<text x="342.60" y="136.47" font-size="6.15" text-anchor="end" fill="#262626" stroke="#262626" stroke-width="0.08" font-style="italic">BRAF</text>
<text x="262.00" y="137.62" font-size="6.15" text-anchor="start" fill="#262626" stroke="#262626" stroke-width="0.08">22%</text>
<text x="463.50" y="136.47" font-size="6.15" text-anchor="start" fill="#262626" stroke="#262626" stroke-width="0.08">10%</text>
<text x="142.40" y="143.42" font-size="6.15" text-anchor="end" fill="#262626" stroke="#262626" stroke-width="0.08" font-style="italic">FAT1</text>
<text x="342.60" y="142.35" font-size="6.15" text-anchor="end" fill="#262626" stroke="#262626" stroke-width="0.08" font-style="italic">FAT1</text>
<text x="262.00" y="143.42" font-size="6.15" text-anchor="start" fill="#262626" stroke="#262626" stroke-width="0.08">22%</text>
<text x="463.50" y="142.35" font-size="6.15" text-anchor="start" fill="#262626" stroke="#262626" stroke-width="0.08">5%</text>
<text x="142.40" y="149.23" font-size="6.15" text-anchor="end" fill="#262626" stroke="#262626" stroke-width="0.08" font-style="italic">KRAS</text>
<text x="342.60" y="148.22" font-size="6.15" text-anchor="end" fill="#262626" stroke="#262626" stroke-width="0.08" font-style="italic">KRAS</text>
<text x="262.00" y="149.23" font-size="6.15" text-anchor="start" fill="#262626" stroke="#262626" stroke-width="0.08">22%</text>
<text x="463.50" y="148.22" font-size="6.15" text-anchor="start" fill="#262626" stroke="#262626" stroke-width="0.08">30%</text>
<text x="142.40" y="155.04" font-size="6.15" text-anchor="end" fill="#262626" stroke="#262626" stroke-width="0.08" font-style="italic">ROBO2</text>
<text x="342.60" y="154.10" font-size="6.15" text-anchor="end" fill="#262626" stroke="#262626" stroke-width="0.08" font-style="italic">ROBO2</text>
<text x="262.00" y="155.04" font-size="6.15" text-anchor="start" fill="#262626" stroke="#262626" stroke-width="0.08">22%</text>
<text x="463.50" y="154.10" font-size="6.15" text-anchor="start" fill="#262626" stroke="#262626" stroke-width="0.08">0%</text>
<text x="142.40" y="160.85" font-size="6.15" text-anchor="end" fill="#262626" stroke="#262626" stroke-width="0.08" font-style="italic">KDR</text>
<text x="342.60" y="159.97" font-size="6.15" text-anchor="end" fill="#262626" stroke="#262626" stroke-width="0.08" font-style="italic">KDR</text>
<text x="262.00" y="160.85" font-size="6.15" text-anchor="start" fill="#262626" stroke="#262626" stroke-width="0.08">17%</text>
<text x="463.50" y="159.97" font-size="6.15" text-anchor="start" fill="#262626" stroke="#262626" stroke-width="0.08">0%</text>
<text x="142.40" y="166.66" font-size="6.15" text-anchor="end" fill="#262626" stroke="#262626" stroke-width="0.08" font-style="italic">LRRK2</text>
<text x="342.60" y="165.85" font-size="6.15" text-anchor="end" fill="#262626" stroke="#262626" stroke-width="0.08" font-style="italic">LRRK2</text>
<text x="262.00" y="166.66" font-size="6.15" text-anchor="start" fill="#262626" stroke="#262626" stroke-width="0.08">17%</text>
<text x="463.50" y="165.85" font-size="6.15" text-anchor="start" fill="#262626" stroke="#262626" stroke-width="0.08">5%</text>
<text x="142.40" y="172.47" font-size="6.15" text-anchor="end" fill="#262626" stroke="#262626" stroke-width="0.08" font-style="italic">MAX</text>
<text x="342.60" y="171.72" font-size="6.15" text-anchor="end" fill="#262626" stroke="#262626" stroke-width="0.08" font-style="italic">MAX</text>
<text x="262.00" y="172.47" font-size="6.15" text-anchor="start" fill="#262626" stroke="#262626" stroke-width="0.08">17%</text>
<text x="463.50" y="171.72" font-size="6.15" text-anchor="start" fill="#262626" stroke="#262626" stroke-width="0.08">5%</text>
<text x="142.40" y="178.28" font-size="6.15" text-anchor="end" fill="#262626" stroke="#262626" stroke-width="0.08" font-style="italic">PEG3</text>
<text x="342.60" y="177.60" font-size="6.15" text-anchor="end" fill="#262626" stroke="#262626" stroke-width="0.08" font-style="italic">PEG3</text>
<text x="262.00" y="178.28" font-size="6.15" text-anchor="start" fill="#262626" stroke="#262626" stroke-width="0.08">17%</text>
<text x="463.50" y="177.60" font-size="6.15" text-anchor="start" fill="#262626" stroke="#262626" stroke-width="0.08">10%</text>
<text x="142.40" y="184.09" font-size="6.15" text-anchor="end" fill="#262626" stroke="#262626" stroke-width="0.08" font-style="italic">PTPRD</text>
<text x="342.60" y="183.47" font-size="6.15" text-anchor="end" fill="#262626" stroke="#262626" stroke-width="0.08" font-style="italic">PTPRD</text>
<text x="262.00" y="184.09" font-size="6.15" text-anchor="start" fill="#262626" stroke="#262626" stroke-width="0.08">17%</text>
<text x="463.50" y="183.47" font-size="6.15" text-anchor="start" fill="#262626" stroke="#262626" stroke-width="0.08">0%</text>
<text x="142.40" y="189.91" font-size="6.15" text-anchor="end" fill="#262626" stroke="#262626" stroke-width="0.08" font-style="italic">ROBO1</text>
<text x="342.60" y="189.35" font-size="6.15" text-anchor="end" fill="#262626" stroke="#262626" stroke-width="0.08" font-style="italic">ROBO1</text>
<text x="262.00" y="189.91" font-size="6.15" text-anchor="start" fill="#262626" stroke="#262626" stroke-width="0.08">17%</text>
<text x="463.50" y="189.35" font-size="6.15" text-anchor="start" fill="#262626" stroke="#262626" stroke-width="0.08">5%</text>
<text x="142.40" y="195.72" font-size="6.15" text-anchor="end" fill="#262626" stroke="#262626" stroke-width="0.08" font-style="italic">ATRX</text>
<text x="342.60" y="195.22" font-size="6.15" text-anchor="end" fill="#262626" stroke="#262626" stroke-width="0.08" font-style="italic">ATRX</text>
<text x="262.00" y="195.72" font-size="6.15" text-anchor="start" fill="#262626" stroke="#262626" stroke-width="0.08">17%</text>
<text x="463.50" y="195.22" font-size="6.15" text-anchor="start" fill="#262626" stroke="#262626" stroke-width="0.08">0%</text>
<text x="142.40" y="201.53" font-size="6.15" text-anchor="end" fill="#262626" stroke="#262626" stroke-width="0.08" font-style="italic">BRCA2</text>
<text x="342.60" y="201.10" font-size="6.15" text-anchor="end" fill="#262626" stroke="#262626" stroke-width="0.08" font-style="italic">BRCA2</text>
<text x="262.00" y="201.53" font-size="6.15" text-anchor="start" fill="#262626" stroke="#262626" stroke-width="0.08">17%</text>
<text x="463.50" y="201.10" font-size="6.15" text-anchor="start" fill="#262626" stroke="#262626" stroke-width="0.08">0%</text>
<text x="142.40" y="207.34" font-size="6.15" text-anchor="end" fill="#262626" stroke="#262626" stroke-width="0.08" font-style="italic">EP300</text>
<text x="342.60" y="206.97" font-size="6.15" text-anchor="end" fill="#262626" stroke="#262626" stroke-width="0.08" font-style="italic">EP300</text>
<text x="262.00" y="207.34" font-size="6.15" text-anchor="start" fill="#262626" stroke="#262626" stroke-width="0.08">17%</text>
<text x="463.50" y="206.97" font-size="6.15" text-anchor="start" fill="#262626" stroke="#262626" stroke-width="0.08">5%</text>
<text x="142.40" y="213.15" font-size="6.15" text-anchor="end" fill="#262626" stroke="#262626" stroke-width="0.08" font-style="italic">GRM7</text>
<text x="342.60" y="212.85" font-size="6.15" text-anchor="end" fill="#262626" stroke="#262626" stroke-width="0.08" font-style="italic">GRM7</text>
<text x="262.00" y="213.15" font-size="6.15" text-anchor="start" fill="#262626" stroke="#262626" stroke-width="0.08">17%</text>
<text x="463.50" y="212.85" font-size="6.15" text-anchor="start" fill="#262626" stroke="#262626" stroke-width="0.08">0%</text>
<text x="142.40" y="218.96" font-size="6.15" text-anchor="end" fill="#262626" stroke="#262626" stroke-width="0.08" font-style="italic">HLA - A</text>
<text x="342.60" y="218.72" font-size="6.15" text-anchor="end" fill="#262626" stroke="#262626" stroke-width="0.08" font-style="italic">HLA - A</text>
<text x="262.00" y="218.96" font-size="6.15" text-anchor="start" fill="#262626" stroke="#262626" stroke-width="0.08">17%</text>
<text x="463.50" y="218.72" font-size="6.15" text-anchor="start" fill="#262626" stroke="#262626" stroke-width="0.08">5%</text>
<text x="142.40" y="224.77" font-size="6.15" text-anchor="end" fill="#262626" stroke="#262626" stroke-width="0.08" font-style="italic">NCOR1</text>
<text x="342.60" y="224.60" font-size="6.15" text-anchor="end" fill="#262626" stroke="#262626" stroke-width="0.08" font-style="italic">NCOR1</text>
<text x="262.00" y="224.77" font-size="6.15" text-anchor="start" fill="#262626" stroke="#262626" stroke-width="0.08">17%</text>
<text x="463.50" y="224.60" font-size="6.15" text-anchor="start" fill="#262626" stroke="#262626" stroke-width="0.08">10%</text>
<text x="142.40" y="230.58" font-size="6.15" text-anchor="end" fill="#262626" stroke="#262626" stroke-width="0.08" font-style="italic">RB1</text>
<text x="342.60" y="230.47" font-size="6.15" text-anchor="end" fill="#262626" stroke="#262626" stroke-width="0.08" font-style="italic">RB1</text>
<text x="262.00" y="230.58" font-size="6.15" text-anchor="start" fill="#262626" stroke="#262626" stroke-width="0.08">17%</text>
<text x="463.50" y="230.47" font-size="6.15" text-anchor="start" fill="#262626" stroke="#262626" stroke-width="0.08">0%</text>
<text x="142.40" y="236.39" font-size="6.15" text-anchor="end" fill="#262626" stroke="#262626" stroke-width="0.08" font-style="italic">RET</text>
<text x="342.60" y="236.35" font-size="6.15" text-anchor="end" fill="#262626" stroke="#262626" stroke-width="0.08" font-style="italic">RET</text>
<text x="262.00" y="236.39" font-size="6.15" text-anchor="start" fill="#262626" stroke="#262626" stroke-width="0.08">17%</text>
<text x="463.50" y="236.35" font-size="6.15" text-anchor="start" fill="#262626" stroke="#262626" stroke-width="0.08">5%</text>
<text x="142.40" y="242.19" font-size="6.15" text-anchor="end" fill="#262626" stroke="#262626" stroke-width="0.08" font-style="italic">USP7</text>
<text x="342.60" y="242.22" font-size="6.15" text-anchor="end" fill="#262626" stroke="#262626" stroke-width="0.08" font-style="italic">USP7</text>
<text x="262.00" y="242.19" font-size="6.15" text-anchor="start" fill="#262626" stroke="#262626" stroke-width="0.08">17%</text>
<text x="463.50" y="242.22" font-size="6.15" text-anchor="start" fill="#262626" stroke="#262626" stroke-width="0.08">0%</text>
<text x="142.40" y="248.00" font-size="6.15" text-anchor="end" fill="#262626" stroke="#262626" stroke-width="0.08" font-style="italic">XPO1</text>
<text x="342.60" y="248.10" font-size="6.15" text-anchor="end" fill="#262626" stroke="#262626" stroke-width="0.08" font-style="italic">XPO1</text>
<text x="262.00" y="248.00" font-size="6.15" text-anchor="start" fill="#262626" stroke="#262626" stroke-width="0.08">17%</text>
<text x="463.50" y="248.10" font-size="6.15" text-anchor="start" fill="#262626" stroke="#262626" stroke-width="0.08">0%</text>
<text x="142.40" y="253.81" font-size="6.15" text-anchor="end" fill="#262626" stroke="#262626" stroke-width="0.08" font-style="italic">ZFHX4</text>
<text x="342.60" y="253.97" font-size="6.15" text-anchor="end" fill="#262626" stroke="#262626" stroke-width="0.08" font-style="italic">ZFHX4</text>
<text x="262.00" y="253.81" font-size="6.15" text-anchor="start" fill="#262626" stroke="#262626" stroke-width="0.08">17%</text>
<text x="463.50" y="253.97" font-size="6.15" text-anchor="start" fill="#262626" stroke="#262626" stroke-width="0.08">5%</text>
<rect x="277.00" y="80.50" width="31.98" height="5.45" fill="#36a937"/>
<rect x="479.20" y="79.45" width="5.55" height="5.30" fill="#36a937"/>
<rect x="277.00" y="86.31" width="5.33" height="5.45" fill="#c9122c"/>
<rect x="282.33" y="86.31" width="15.99" height="5.45" fill="#36a937"/>
<rect x="298.32" y="86.31" width="5.33" height="5.45" fill="#1d4790"/>
<rect x="277.00" y="92.12" width="15.99" height="5.45" fill="#36a937"/>
<rect x="292.99" y="92.12" width="5.33" height="5.45" fill="#0a0a0a"/>
<rect x="479.20" y="91.20" width="5.55" height="5.30" fill="#36a937"/>
<rect x="277.00" y="97.93" width="21.32" height="5.45" fill="#36a937"/>
<rect x="479.20" y="97.08" width="5.55" height="5.30" fill="#0a0a0a"/>
<rect x="277.00" y="103.74" width="10.66" height="5.45" fill="#36a937"/>
<rect x="287.66" y="103.74" width="10.66" height="5.45" fill="#0a0a0a"/>
<rect x="277.00" y="109.55" width="15.99" height="5.45" fill="#36a937"/>
<rect x="292.99" y="109.55" width="5.33" height="5.45" fill="#0a0a0a"/>
<rect x="277.00" y="115.36" width="10.66" height="5.45" fill="#36a937"/>
<rect x="287.66" y="115.36" width="5.33" height="5.45" fill="#1d4790"/>
<rect x="292.99" y="115.36" width="5.33" height="5.45" fill="#0a0a0a"/>
<rect x="479.20" y="114.70" width="11.10" height="5.30" fill="#36a937"/>
<rect x="490.30" y="114.70" width="5.55" height="5.30" fill="#5b2586"/>
<rect x="277.00" y="121.17" width="5.33" height="5.45" fill="#c9122c"/>
<rect x="282.33" y="121.17" width="15.99" height="5.45" fill="#36a937"/>
<rect x="277.00" y="126.98" width="21.32" height="5.45" fill="#36a937"/>
<rect x="479.20" y="126.45" width="11.10" height="5.30" fill="#36a937"/>
<rect x="277.00" y="132.79" width="21.32" height="5.45" fill="#36a937"/>
<rect x="479.20" y="132.32" width="11.10" height="5.30" fill="#36a937"/>
<rect x="277.00" y="138.60" width="21.32" height="5.45" fill="#36a937"/>
<rect x="479.20" y="138.20" width="5.55" height="5.30" fill="#0a0a0a"/>
<rect x="277.00" y="144.41" width="21.32" height="5.45" fill="#36a937"/>
<rect x="479.20" y="144.07" width="27.75" height="5.30" fill="#36a937"/>
<rect x="506.95" y="144.07" width="5.55" height="5.30" fill="#0a0a0a"/>
<rect x="277.00" y="150.22" width="5.33" height="5.45" fill="#c9122c"/>
<rect x="282.33" y="150.22" width="15.99" height="5.45" fill="#36a937"/>
<rect x="277.00" y="156.03" width="10.66" height="5.45" fill="#36a937"/>
<rect x="287.66" y="156.03" width="5.33" height="5.45" fill="#0a0a0a"/>
<rect x="277.00" y="161.84" width="10.66" height="5.45" fill="#36a937"/>
<rect x="287.66" y="161.84" width="5.33" height="5.45" fill="#0a0a0a"/>
<rect x="479.20" y="161.70" width="5.55" height="5.30" fill="#36a937"/>
<rect x="277.00" y="167.65" width="5.33" height="5.45" fill="#c9122c"/>
<rect x="282.33" y="167.65" width="5.33" height="5.45" fill="#f7880f"/>
<rect x="287.66" y="167.65" width="5.33" height="5.45" fill="#0a0a0a"/>
<rect x="479.20" y="167.57" width="5.55" height="5.30" fill="#f7880f"/>
<rect x="277.00" y="173.46" width="10.66" height="5.45" fill="#36a937"/>
<rect x="287.66" y="173.46" width="5.33" height="5.45" fill="#0a0a0a"/>
<rect x="479.20" y="173.45" width="11.10" height="5.30" fill="#36a937"/>
<rect x="277.00" y="179.27" width="10.66" height="5.45" fill="#36a937"/>
<rect x="287.66" y="179.27" width="5.33" height="5.45" fill="#0a0a0a"/>
<rect x="277.00" y="185.08" width="10.66" height="5.45" fill="#36a937"/>
<rect x="287.66" y="185.08" width="5.33" height="5.45" fill="#0a0a0a"/>
<rect x="479.20" y="185.20" width="5.55" height="5.30" fill="#36a937"/>
<rect x="277.00" y="190.89" width="15.99" height="5.45" fill="#36a937"/>
<rect x="277.00" y="196.70" width="15.99" height="5.45" fill="#36a937"/>
<rect x="277.00" y="202.51" width="10.66" height="5.45" fill="#36a937"/>
<rect x="287.66" y="202.51" width="5.33" height="5.45" fill="#1d4790"/>
<rect x="479.20" y="202.82" width="5.55" height="5.30" fill="#36a937"/>
<rect x="277.00" y="208.32" width="10.66" height="5.45" fill="#36a937"/>
<rect x="287.66" y="208.32" width="5.33" height="5.45" fill="#e0186f"/>
<rect x="277.00" y="214.13" width="15.99" height="5.45" fill="#36a937"/>
<rect x="479.20" y="214.57" width="5.55" height="5.30" fill="#36a937"/>
<rect x="277.00" y="219.94" width="10.66" height="5.45" fill="#36a937"/>
<rect x="287.66" y="219.94" width="5.33" height="5.45" fill="#1d4790"/>
<rect x="479.20" y="220.45" width="5.55" height="5.30" fill="#36a937"/>
<rect x="484.75" y="220.45" width="5.55" height="5.30" fill="#c9122c"/>
<rect x="277.00" y="225.75" width="10.66" height="5.45" fill="#36a937"/>
<rect x="287.66" y="225.75" width="5.33" height="5.45" fill="#1d4790"/>
<rect x="277.00" y="231.56" width="15.99" height="5.45" fill="#36a937"/>
<rect x="479.20" y="232.20" width="5.55" height="5.30" fill="#36a937"/>
<rect x="277.00" y="237.37" width="5.33" height="5.45" fill="#c9122c"/>
<rect x="282.33" y="237.37" width="10.66" height="5.45" fill="#36a937"/>
<rect x="277.00" y="243.18" width="10.66" height="5.45" fill="#36a937"/>
<rect x="287.66" y="243.18" width="5.33" height="5.45" fill="#f7880f"/>
<rect x="277.00" y="248.99" width="15.99" height="5.45" fill="#36a937"/>
<rect x="479.20" y="249.82" width="5.55" height="5.30" fill="#36a937"/>
<path d="M276.9,77.9 V79.2 H309.6 V77.9" fill="none" stroke="#555" stroke-width="0.7"/>
<text x="277.10" y="75.60" font-size="6.15" text-anchor="middle" fill="#262626" stroke="#262626" stroke-width="0.08">0</text>
<text x="309.30" y="75.60" font-size="6.15" text-anchor="middle" fill="#262626" stroke="#262626" stroke-width="0.08">6</text>
<path d="M479.1,76.60000000000001 V77.9 H512.4 V76.60000000000001" fill="none" stroke="#555" stroke-width="0.7"/>
<text x="479.80" y="75.60" font-size="6.15" text-anchor="middle" fill="#262626" stroke="#262626" stroke-width="0.08">0</text>
<text x="511.70" y="75.60" font-size="6.15" text-anchor="middle" fill="#262626" stroke="#262626" stroke-width="0.08">6</text>
<rect x="145.35" y="75.40" width="5.69" height="2.10" fill="#1c3566"/>
<rect x="145.35" y="74.20" width="5.69" height="1.20" fill="#f5c531"/>
<rect x="145.35" y="52.90" width="5.69" height="21.30" fill="#36a937"/>
<rect x="145.35" y="50.90" width="5.69" height="2.00" fill="#b3221e"/>
<rect x="145.35" y="50.30" width="5.69" height="0.60" fill="#f7880f"/>
<rect x="151.69" y="75.60" width="5.69" height="1.90" fill="#1c3566"/>
<rect x="151.69" y="75.00" width="5.69" height="0.60" fill="#f5c531"/>
<rect x="151.69" y="68.50" width="5.69" height="6.50" fill="#36a937"/>
<rect x="151.69" y="67.60" width="5.69" height="0.90" fill="#b3221e"/>
<rect x="158.03" y="74.20" width="5.69" height="3.30" fill="#1c3566"/>
<rect x="158.03" y="72.70" width="5.69" height="1.50" fill="#f5c531"/>
<rect x="158.03" y="29.70" width="5.69" height="43.00" fill="#36a937"/>
<rect x="158.03" y="26.90" width="5.69" height="2.80" fill="#b3221e"/>
<rect x="158.03" y="26.30" width="5.69" height="0.60" fill="#f7880f"/>
<rect x="164.37" y="63.50" width="5.69" height="14.00" fill="#36a937"/>
<rect x="164.37" y="62.00" width="5.69" height="1.50" fill="#b3221e"/>
<rect x="164.37" y="61.50" width="5.69" height="0.50" fill="#f7880f"/>
<rect x="170.71" y="66.00" width="5.69" height="11.50" fill="#36a937"/>
<rect x="170.71" y="65.00" width="5.69" height="1.00" fill="#b3221e"/>
<rect x="177.05" y="76.50" width="5.69" height="1.00" fill="#1c3566"/>
<rect x="177.05" y="65.50" width="5.69" height="11.00" fill="#36a937"/>
<rect x="177.05" y="63.80" width="5.69" height="1.70" fill="#b3221e"/>
<rect x="183.39" y="60.00" width="5.69" height="17.50" fill="#36a937"/>
<rect x="183.39" y="58.40" width="5.69" height="1.60" fill="#b3221e"/>
<rect x="183.39" y="58.00" width="5.69" height="0.40" fill="#f7880f"/>
<rect x="189.73" y="55.50" width="5.69" height="22.00" fill="#36a937"/>
<rect x="189.73" y="54.20" width="5.69" height="1.30" fill="#b3221e"/>
<rect x="189.73" y="53.70" width="5.69" height="0.50" fill="#f7880f"/>
<rect x="196.07" y="73.00" width="5.69" height="4.50" fill="#36a937"/>
<rect x="202.41" y="69.90" width="5.69" height="7.60" fill="#1d4088"/>
<rect x="202.41" y="63.10" width="5.69" height="6.80" fill="#4b2275"/>
<rect x="202.41" y="59.50" width="5.69" height="3.60" fill="#f5c531"/>
<rect x="202.41" y="58.30" width="5.69" height="1.20" fill="#f7880f"/>
<rect x="202.41" y="55.90" width="5.69" height="2.40" fill="#d4204a"/>
<rect x="202.41" y="29.70" width="5.69" height="26.20" fill="#36a937"/>
<rect x="202.41" y="28.00" width="5.69" height="1.70" fill="#b3221e"/>
<rect x="202.41" y="27.50" width="5.69" height="0.50" fill="#f7880f"/>
<rect x="208.75" y="61.80" width="5.69" height="15.70" fill="#36a937"/>
<rect x="208.75" y="60.30" width="5.69" height="1.50" fill="#b3221e"/>
<rect x="215.09" y="74.00" width="5.69" height="3.50" fill="#1c3566"/>
<rect x="215.09" y="70.90" width="5.69" height="3.10" fill="#f5c531"/>
<rect x="215.09" y="51.70" width="5.69" height="19.20" fill="#36a937"/>
<rect x="215.09" y="49.70" width="5.69" height="2.00" fill="#b3221e"/>
<rect x="215.09" y="48.60" width="5.69" height="1.10" fill="#f7880f"/>
<rect x="221.43" y="74.50" width="5.69" height="3.00" fill="#1c3566"/>
<rect x="221.43" y="69.90" width="5.69" height="4.60" fill="#4b2275"/>
<rect x="221.43" y="68.30" width="5.69" height="1.60" fill="#f7880f"/>
<rect x="221.43" y="66.20" width="5.69" height="2.10" fill="#d4204a"/>
<rect x="221.43" y="53.80" width="5.69" height="12.40" fill="#36a937"/>
<rect x="221.43" y="52.00" width="5.69" height="1.80" fill="#b3221e"/>
<rect x="227.77" y="76.10" width="5.69" height="1.40" fill="#1d4088"/>
<rect x="227.77" y="66.80" width="5.69" height="9.30" fill="#36a937"/>
<rect x="227.77" y="65.70" width="5.69" height="1.10" fill="#b3221e"/>
<rect x="234.11" y="72.60" width="5.69" height="4.90" fill="#36a937"/>
<rect x="240.45" y="74.30" width="5.69" height="3.20" fill="#36a937"/>
<rect x="246.79" y="74.70" width="5.69" height="2.80" fill="#36a937"/>
<rect x="253.13" y="74.70" width="5.69" height="2.80" fill="#36a937"/>
<rect x="346.10" y="73.80" width="5.39" height="2.20" fill="#36a937"/>
<rect x="346.10" y="73.00" width="5.39" height="0.80" fill="#4a6a1e"/>
<rect x="351.89" y="74.30" width="5.59" height="1.70" fill="#55691f"/>
<rect x="357.68" y="74.30" width="5.59" height="1.70" fill="#55691f"/>
<rect x="363.47" y="74.30" width="5.59" height="1.70" fill="#55691f"/>
<rect x="369.26" y="75.00" width="5.59" height="1.00" fill="#55691f"/>
<rect x="375.05" y="74.00" width="5.59" height="2.00" fill="#55691f"/>
<rect x="380.84" y="26.10" width="5.39" height="49.90" fill="#36a937"/>
<rect x="380.84" y="25.15" width="5.39" height="1.00" fill="#5e4516"/>
<rect x="380.84" y="24.80" width="5.39" height="0.40" fill="#e0a048"/>
<rect x="386.63" y="74.60" width="5.59" height="1.40" fill="#55691f"/>
<rect x="392.42" y="74.90" width="5.59" height="1.10" fill="#55691f"/>
<rect x="398.21" y="74.70" width="5.59" height="1.30" fill="#55691f"/>
<rect x="404.00" y="74.70" width="5.59" height="1.30" fill="#55691f"/>
<rect x="409.79" y="74.80" width="5.59" height="1.20" fill="#55691f"/>
<rect x="415.58" y="75.00" width="5.59" height="1.00" fill="#55691f"/>
<rect x="421.37" y="55.00" width="5.39" height="21.00" fill="#36a937"/>
<rect x="421.37" y="54.05" width="5.39" height="1.00" fill="#5e4516"/>
<rect x="421.37" y="53.70" width="5.39" height="0.40" fill="#e0a048"/>
<rect x="427.16" y="67.10" width="5.39" height="8.90" fill="#36a937"/>
<rect x="427.16" y="66.15" width="5.39" height="1.00" fill="#5e4516"/>
<rect x="427.16" y="65.80" width="5.39" height="0.40" fill="#e0a048"/>
<rect x="432.95" y="75.50" width="5.59" height="0.50" fill="#55691f"/>
<rect x="438.74" y="74.60" width="5.59" height="1.40" fill="#55691f"/>
<rect x="444.53" y="75.40" width="5.59" height="0.60" fill="#55691f"/>
<rect x="450.32" y="74.20" width="5.59" height="1.80" fill="#55691f"/>
<rect x="456.11" y="74.90" width="5.59" height="1.10" fill="#55691f"/>
<path d="M141.4,26.3 H143 V77.5 H141.4" fill="none" stroke="#999" stroke-width="1.1"/>
<text x="138.20" y="28.90" font-size="6.15" text-anchor="end" fill="#262626" stroke="#262626" stroke-width="0.08">1824</text>
<text x="138.20" y="79.30" font-size="6.15" text-anchor="end" fill="#262626" stroke="#262626" stroke-width="0.08">0</text>
<path d="M341.3,24.3 H342.9 V76.2 H341.3" fill="none" stroke="#999" stroke-width="1.1"/>
<text x="338.10" y="25.90" font-size="6.15" text-anchor="end" fill="#262626" stroke="#262626" stroke-width="0.08">2837</text>
<text x="338.10" y="76.90" font-size="6.15" text-anchor="end" fill="#262626" stroke="#262626" stroke-width="0.08">0</text>
<text transform="translate(150.10,257.6) rotate(-90)" font-size="6.15" text-anchor="end" fill="#262626" stroke="#262626" stroke-width="0.08">EMD 12</text>
<text transform="translate(156.44,257.6) rotate(-90)" font-size="6.15" text-anchor="end" fill="#262626" stroke="#262626" stroke-width="0.08">EMD 9</text>
<text transform="translate(162.78,257.6) rotate(-90)" font-size="6.15" text-anchor="end" fill="#262626" stroke="#262626" stroke-width="0.08">EMD 3</text>
<text transform="translate(169.12,257.6) rotate(-90)" font-size="6.15" text-anchor="end" fill="#262626" stroke="#262626" stroke-width="0.08">EMD 16</text>
<text transform="translate(175.46,257.6) rotate(-90)" font-size="6.15" text-anchor="end" fill="#262626" stroke="#262626" stroke-width="0.08">EMD 13</text>
<text transform="translate(181.80,257.6) rotate(-90)" font-size="6.15" text-anchor="end" fill="#262626" stroke="#262626" stroke-width="0.08">EMD 2</text>
<text transform="translate(188.14,257.6) rotate(-90)" font-size="6.15" text-anchor="end" fill="#262626" stroke="#262626" stroke-width="0.08">EMD 14</text>
<text transform="translate(194.48,257.6) rotate(-90)" font-size="6.15" text-anchor="end" fill="#262626" stroke="#262626" stroke-width="0.08">EMD 8</text>
<text transform="translate(200.82,257.6) rotate(-90)" font-size="6.15" text-anchor="end" fill="#262626" stroke="#262626" stroke-width="0.08">EMD 4</text>
<text transform="translate(207.16,257.6) rotate(-90)" font-size="6.15" text-anchor="end" fill="#262626" stroke="#262626" stroke-width="0.08">EMD 15</text>
<text transform="translate(213.50,257.6) rotate(-90)" font-size="6.15" text-anchor="end" fill="#262626" stroke="#262626" stroke-width="0.08">EMD 7</text>
<text transform="translate(219.84,257.6) rotate(-90)" font-size="6.15" text-anchor="end" fill="#262626" stroke="#262626" stroke-width="0.08">EMD 11</text>
<text transform="translate(226.18,257.6) rotate(-90)" font-size="6.15" text-anchor="end" fill="#262626" stroke="#262626" stroke-width="0.08">EMD 10</text>
<text transform="translate(232.52,257.6) rotate(-90)" font-size="6.15" text-anchor="end" fill="#262626" stroke="#262626" stroke-width="0.08">EMD 1</text>
<text transform="translate(238.86,257.6) rotate(-90)" font-size="6.15" text-anchor="end" fill="#262626" stroke="#262626" stroke-width="0.08">EMD 6</text>
<text transform="translate(245.20,257.6) rotate(-90)" font-size="6.15" text-anchor="end" fill="#262626" stroke="#262626" stroke-width="0.08">EMD 18</text>
<text transform="translate(251.54,257.6) rotate(-90)" font-size="6.15" text-anchor="end" fill="#262626" stroke="#262626" stroke-width="0.08">EMD 17</text>
<text transform="translate(257.88,257.6) rotate(-90)" font-size="6.15" text-anchor="end" fill="#262626" stroke="#262626" stroke-width="0.08">EMD 5</text>
<text transform="translate(350.73,257.6) rotate(-90)" font-size="6.15" text-anchor="end" fill="#262626" stroke="#262626" stroke-width="0.08">BMA 19</text>
<text transform="translate(356.52,257.6) rotate(-90)" font-size="6.15" text-anchor="end" fill="#262626" stroke="#262626" stroke-width="0.08">BMA 20</text>
<text transform="translate(362.31,257.6) rotate(-90)" font-size="6.15" text-anchor="end" fill="#262626" stroke="#262626" stroke-width="0.08">BMA 14</text>
<text transform="translate(368.10,257.6) rotate(-90)" font-size="6.15" text-anchor="end" fill="#262626" stroke="#262626" stroke-width="0.08">BMA 21</text>
<text transform="translate(373.89,257.6) rotate(-90)" font-size="6.15" text-anchor="end" fill="#262626" stroke="#262626" stroke-width="0.08">BMA 22</text>
<text transform="translate(379.68,257.6) rotate(-90)" font-size="6.15" text-anchor="end" fill="#262626" stroke="#262626" stroke-width="0.08">BMA 23</text>
<text transform="translate(385.47,257.6) rotate(-90)" font-size="6.15" text-anchor="end" fill="#262626" stroke="#262626" stroke-width="0.08">BMA 25</text>
<text transform="translate(391.25,257.6) rotate(-90)" font-size="6.15" text-anchor="end" fill="#262626" stroke="#262626" stroke-width="0.08">BMA 27</text>
<text transform="translate(397.05,257.6) rotate(-90)" font-size="6.15" text-anchor="end" fill="#262626" stroke="#262626" stroke-width="0.08">BMA 18</text>
<text transform="translate(402.84,257.6) rotate(-90)" font-size="6.15" text-anchor="end" fill="#262626" stroke="#262626" stroke-width="0.08">BMA 28</text>
<text transform="translate(408.62,257.6) rotate(-90)" font-size="6.15" text-anchor="end" fill="#262626" stroke="#262626" stroke-width="0.08">BMA 30</text>
<text transform="translate(414.42,257.6) rotate(-90)" font-size="6.15" text-anchor="end" fill="#262626" stroke="#262626" stroke-width="0.08">BMA 31</text>
<text transform="translate(420.21,257.6) rotate(-90)" font-size="6.15" text-anchor="end" fill="#262626" stroke="#262626" stroke-width="0.08">BMA 32</text>
<text transform="translate(426.00,257.6) rotate(-90)" font-size="6.15" text-anchor="end" fill="#262626" stroke="#262626" stroke-width="0.08">BMA 29</text>
<text transform="translate(431.79,257.6) rotate(-90)" font-size="6.15" text-anchor="end" fill="#262626" stroke="#262626" stroke-width="0.08">BMA 15</text>
<text transform="translate(437.58,257.6) rotate(-90)" font-size="6.15" text-anchor="end" fill="#262626" stroke="#262626" stroke-width="0.08">BMA 13</text>
<text transform="translate(443.37,257.6) rotate(-90)" font-size="6.15" text-anchor="end" fill="#262626" stroke="#262626" stroke-width="0.08">BMA 16</text>
<text transform="translate(449.16,257.6) rotate(-90)" font-size="6.15" text-anchor="end" fill="#262626" stroke="#262626" stroke-width="0.08">BMA 17</text>
<text transform="translate(454.95,257.6) rotate(-90)" font-size="6.15" text-anchor="end" fill="#262626" stroke="#262626" stroke-width="0.08">BMA 26</text>
<text transform="translate(460.74,257.6) rotate(-90)" font-size="6.15" text-anchor="end" fill="#262626" stroke="#262626" stroke-width="0.08">BMA 33</text>
<rect x="144.80" y="283.00" width="12.68" height="15.60" fill="#2ca8e0"/>
<rect x="157.48" y="283.00" width="6.34" height="15.60" fill="#bcbd84"/>
<rect x="163.82" y="283.00" width="6.34" height="15.60" fill="#2ca8e0"/>
<rect x="170.16" y="283.00" width="19.02" height="15.60" fill="#bcbd84"/>
<rect x="189.18" y="283.00" width="12.68" height="15.60" fill="#2ca8e0"/>
<rect x="201.86" y="283.00" width="6.34" height="15.60" fill="#bcbd84"/>
<rect x="208.20" y="283.00" width="19.02" height="15.60" fill="#2ca8e0"/>
<rect x="227.22" y="283.00" width="6.34" height="15.60" fill="#bcbd84"/>
<rect x="233.56" y="283.00" width="6.34" height="15.60" fill="#2ca8e0"/>
<rect x="239.90" y="283.00" width="6.34" height="15.60" fill="#bcbd84"/>
<rect x="246.24" y="283.00" width="12.68" height="15.60" fill="#2ca8e0"/>
<rect x="345.80" y="283.00" width="11.58" height="15.60" fill="#2ca8e0"/>
<rect x="357.38" y="283.00" width="5.79" height="15.60" fill="#bcbd84"/>
<rect x="363.17" y="283.00" width="11.58" height="15.60" fill="#2ca8e0"/>
<rect x="374.75" y="283.00" width="23.16" height="15.60" fill="#bcbd84"/>
<rect x="397.91" y="283.00" width="5.79" height="15.60" fill="#2ca8e0"/>
<rect x="403.70" y="283.00" width="5.79" height="15.60" fill="#bcbd84"/>
<rect x="409.49" y="283.00" width="17.37" height="15.60" fill="#2ca8e0"/>
<rect x="426.86" y="283.00" width="11.58" height="15.60" fill="#bcbd84"/>
<rect x="438.44" y="283.00" width="23.16" height="15.60" fill="#2ca8e0"/>
<text x="263.60" y="293.00" font-size="6.15" text-anchor="start" fill="#262626" stroke="#262626" stroke-width="0.08">EMD</text>
<text x="466.10" y="293.00" font-size="6.15" text-anchor="start" fill="#262626" stroke="#262626" stroke-width="0.08">BMA</text>
<rect x="290.00" y="286.30" width="2.60" height="2.60" fill="#c2b28e"/>
<text x="296.00" y="289.60" font-size="5.75" text-anchor="start" fill="#262626" stroke="#262626" stroke-width="0.08">De novo</text>
<rect x="290.00" y="292.90" width="2.60" height="2.60" fill="#5a9fd4"/>
<text x="296.00" y="296.30" font-size="5.75" text-anchor="start" fill="#262626" stroke="#262626" stroke-width="0.08">Secondary</text>
<rect x="246.50" y="307.00" width="2.40" height="2.40" fill="#8a1c30"/>
<text x="252.90" y="310.00" font-size="5.75" text-anchor="start" fill="#262626" stroke="#262626" stroke-width="0.08">Nonsense_Mutation</text>
<rect x="246.50" y="313.60" width="2.40" height="2.40" fill="#2f9a5a"/>
<text x="252.90" y="316.60" font-size="5.75" text-anchor="start" fill="#262626" stroke="#262626" stroke-width="0.08">Missense_Mutation</text>
<rect x="246.50" y="320.20" width="2.40" height="2.40" fill="#b01c70"/>
<text x="252.90" y="323.20" font-size="5.75" text-anchor="start" fill="#262626" stroke="#262626" stroke-width="0.08">Translation_Start_Site</text>
<rect x="246.50" y="326.80" width="2.40" height="2.40" fill="#18404a"/>
<text x="252.90" y="329.80" font-size="5.75" text-anchor="start" fill="#262626" stroke="#262626" stroke-width="0.08">Frame_Shift_Del</text>
<rect x="312.20" y="307.00" width="2.40" height="2.40" fill="#2a1a70"/>
<text x="317.80" y="310.00" font-size="5.75" text-anchor="start" fill="#262626" stroke="#262626" stroke-width="0.08">Frame_Shift_Ins</text>
<rect x="312.20" y="313.60" width="2.40" height="2.40" fill="#b0a040"/>
<text x="317.80" y="316.60" font-size="5.75" text-anchor="start" fill="#262626" stroke="#262626" stroke-width="0.08">Splice_Site</text>
<rect x="312.20" y="320.20" width="2.40" height="2.40" fill="#c8c070"/>
<text x="317.80" y="323.20" font-size="5.75" text-anchor="start" fill="#262626" stroke="#262626" stroke-width="0.08">In_Frame_Del</text>
<rect x="312.20" y="326.80" width="2.40" height="2.40" fill="#000"/>
<text x="317.80" y="329.80" font-size="5.75" text-anchor="start" fill="#262626" stroke="#262626" stroke-width="0.08">Multi_Hit</text>
<text x="87.15" y="91.10" font-size="6.25" text-anchor="middle" fill="#262626" stroke="#262626" stroke-width="0.06" textLength="36.50" lengthAdjust="spacingAndGlyphs">Extramedullary</text>
<text x="87.00" y="97.90" font-size="6.25" text-anchor="middle" fill="#262626" stroke="#262626" stroke-width="0.06" textLength="34.60" lengthAdjust="spacingAndGlyphs">sites (n = 18)</text>
<text x="86.90" y="105.00" font-size="6.25" text-anchor="middle" fill="#d3385a" stroke="#d3385a" stroke-width="0.06" textLength="30.60" lengthAdjust="spacingAndGlyphs">paraskeletal</text>
<text x="87.00" y="112.10" font-size="6.25" text-anchor="middle" fill="#d3385a" stroke="#d3385a" stroke-width="0.06" textLength="44.20" lengthAdjust="spacingAndGlyphs">disease excluded</text>
<path d="M39.20,81.60 C38.08,82.10 39.60,83.88 38.90,84.60 C38.20,85.32 36.45,85.40 35.00,85.90 C33.55,86.40 31.37,86.83 30.20,87.60 C29.03,88.37 28.57,89.27 28.00,90.50 C27.43,91.73 27.27,93.42 26.80,95.00 C26.33,96.58 25.78,98.25 25.20,100.00 C24.62,101.75 23.97,103.75 23.30,105.50 C22.63,107.25 21.93,108.82 21.20,110.50 C20.47,112.18 19.67,114.05 18.90,115.60 C18.13,117.15 17.25,118.80 16.60,119.80 C15.95,120.80 15.43,120.93 15.00,121.60 C14.57,122.27 14.03,123.03 14.00,123.80 C13.97,124.57 14.42,125.97 14.80,126.20 C15.18,126.43 15.90,125.10 16.30,125.20 C16.70,125.30 16.82,126.87 17.20,126.80 C17.58,126.73 18.10,125.50 18.60,124.80 C19.10,124.10 19.50,123.83 20.20,122.60 C20.90,121.37 21.93,119.23 22.80,117.40 C23.67,115.57 24.50,113.57 25.40,111.60 C26.30,109.63 27.33,107.60 28.20,105.60 C29.07,103.60 30.03,99.87 30.60,99.60 C31.17,99.33 31.33,101.93 31.60,104.00 C31.87,106.07 32.08,109.33 32.20,112.00 C32.32,114.67 32.30,117.67 32.30,120.00 C32.30,122.33 32.15,123.33 32.20,126.00 C32.25,128.67 32.43,132.33 32.60,136.00 C32.77,139.67 33.03,144.00 33.20,148.00 C33.37,152.00 33.58,156.58 33.60,160.00 C33.62,163.42 33.47,166.50 33.30,168.50 C33.13,170.50 32.55,170.98 32.60,172.00 C32.65,173.02 32.78,174.07 33.60,174.60 C34.42,175.13 36.23,175.17 37.50,175.20 C38.77,175.23 40.55,175.67 41.20,174.80 C41.85,173.93 41.37,171.97 41.40,170.00 C41.43,168.03 41.30,166.33 41.40,163.00 C41.50,159.67 41.80,154.17 42.00,150.00 C42.20,145.83 42.43,141.42 42.60,138.00 C42.77,134.58 43.03,131.00 43.00,129.50 C42.97,128.00 42.60,129.00 42.40,129.00 C42.20,129.00 41.83,128.00 41.80,129.50 C41.77,131.00 42.03,134.58 42.20,138.00 C42.37,141.42 42.60,145.83 42.80,150.00 C43.00,154.17 43.30,159.67 43.40,163.00 C43.50,166.33 43.37,168.03 43.40,170.00 C43.43,171.97 42.95,173.93 43.60,174.80 C44.25,175.67 46.03,175.23 47.30,175.20 C48.57,175.17 50.38,175.13 51.20,174.60 C52.02,174.07 52.15,173.02 52.20,172.00 C52.25,170.98 51.67,170.50 51.50,168.50 C51.33,166.50 51.18,163.42 51.20,160.00 C51.22,156.58 51.43,152.00 51.60,148.00 C51.77,144.00 52.03,139.67 52.20,136.00 C52.37,132.33 52.55,128.67 52.60,126.00 C52.65,123.33 52.50,122.33 52.50,120.00 C52.50,117.67 52.48,114.67 52.60,112.00 C52.72,109.33 52.93,106.07 53.20,104.00 C53.47,101.93 53.63,99.33 54.20,99.60 C54.77,99.87 55.73,103.60 56.60,105.60 C57.47,107.60 58.50,109.63 59.40,111.60 C60.30,113.57 61.13,115.57 62.00,117.40 C62.87,119.23 63.90,121.37 64.60,122.60 C65.30,123.83 65.70,124.10 66.20,124.80 C66.70,125.50 67.22,126.73 67.60,126.80 C67.98,126.87 68.10,125.30 68.50,125.20 C68.90,125.10 69.62,126.43 70.00,126.20 C70.38,125.97 70.83,124.57 70.80,123.80 C70.77,123.03 70.23,122.27 69.80,121.60 C69.37,120.93 68.85,120.80 68.20,119.80 C67.55,118.80 66.67,117.15 65.90,115.60 C65.13,114.05 64.33,112.18 63.60,110.50 C62.87,108.82 62.17,107.25 61.50,105.50 C60.83,103.75 60.18,101.75 59.60,100.00 C59.02,98.25 58.47,96.58 58.00,95.00 C57.53,93.42 57.37,91.73 56.80,90.50 C56.23,89.27 55.77,88.37 54.60,87.60 C53.43,86.83 51.25,86.40 49.80,85.90 C48.35,85.40 46.60,85.32 45.90,84.60 C45.20,83.88 46.72,82.10 45.60,81.60 C44.48,81.10 40.32,81.10 39.20,81.60 Z" fill="#fefefe" stroke="#b9b9b9" stroke-width="0.6"/>
<ellipse cx="42.4" cy="76.0" rx="5.0" ry="6.4" fill="#fbfbfb" stroke="#aaaaaa" stroke-width="0.7"/>
<path d="M39.6,82.2 C39.8,84 40.2,85.5 42.4,86.2 C44.6,85.5 45,84 45.2,82.2" fill="none" stroke="#c8c8c8" stroke-width="0.5"/>
<path d="M37.6,74.5 C37.4,70.2 39.8,69.5 42.4,69.5 C45,69.5 47.4,70.2 47.2,74.5 C46.4,71.8 44.6,71.3 42.4,71.3 C40.2,71.3 38.4,71.8 37.6,74.5 Z" fill="#a9a9a9"/>
<path d="M42.60,87.20 C44.23,87.20 46.17,87.13 47.50,87.60 C48.83,88.07 49.98,88.43 50.60,90.00 C51.22,91.57 51.13,94.33 51.20,97.00 C51.27,99.67 51.00,103.17 51.00,106.00 C51.00,108.83 51.30,111.50 51.20,114.00 C51.10,116.50 51.10,119.37 50.40,121.00 C49.70,122.63 48.30,123.27 47.00,123.80 C45.70,124.33 44.07,124.20 42.60,124.20 C41.13,124.20 39.50,124.33 38.20,123.80 C36.90,123.27 35.47,122.63 34.80,121.00 C34.13,119.37 34.27,116.50 34.20,114.00 C34.13,111.50 34.37,108.83 34.40,106.00 C34.43,103.17 34.30,99.67 34.40,97.00 C34.50,94.33 34.45,91.57 35.00,90.00 C35.55,88.43 36.43,88.07 37.70,87.60 C38.97,87.13 40.97,87.20 42.60,87.20 Z" fill="#f5e4e7"/>
<path d="M41.80,88.00 C41.18,86.90 39.55,87.97 38.60,88.40 C37.65,88.83 36.67,89.50 36.10,90.60 C35.53,91.70 35.32,93.43 35.20,95.00 C35.08,96.57 34.93,98.90 35.40,100.00 C35.87,101.10 36.97,101.47 38.00,101.60 C39.03,101.73 40.88,101.90 41.60,100.80 C42.32,99.70 42.27,97.13 42.30,95.00 C42.33,92.87 42.42,89.10 41.80,88.00 Z" fill="#e7c4cd"/>
<path d="M45.00,88.00 C45.62,86.90 47.25,87.97 48.20,88.40 C49.15,88.83 50.13,89.50 50.70,90.60 C51.27,91.70 51.48,93.43 51.60,95.00 C51.72,96.57 51.87,98.90 51.40,100.00 C50.93,101.10 49.83,101.47 48.80,101.60 C47.77,101.73 45.92,101.90 45.20,100.80 C44.48,99.70 44.53,97.13 44.50,95.00 C44.47,92.87 44.38,89.10 45.00,88.00 Z" fill="#e2bcc7"/>
<path d="M42.80,93.40 C43.47,93.37 44.67,94.07 45.20,94.80 C45.73,95.53 46.10,96.80 46.00,97.80 C45.90,98.80 45.30,100.30 44.60,100.80 C43.90,101.30 42.47,101.30 41.80,100.80 C41.13,100.30 40.70,98.77 40.60,97.80 C40.50,96.83 40.83,95.73 41.20,95.00 C41.57,94.27 42.13,93.43 42.80,93.40 Z" fill="#b85c63"/>
<path d="M35.20,101.00 C35.88,100.00 38.03,100.23 39.50,100.20 C40.97,100.17 43.28,100.10 44.00,100.80 C44.72,101.50 44.17,103.23 43.80,104.40 C43.43,105.57 42.80,107.10 41.80,107.80 C40.80,108.50 38.87,108.87 37.80,108.60 C36.73,108.33 35.83,107.47 35.40,106.20 C34.97,104.93 34.52,102.00 35.20,101.00 Z" fill="#b3605d"/>
<path d="M44.20,101.00 C44.93,100.17 47.37,100.27 48.40,100.60 C49.43,100.93 50.17,102.00 50.40,103.00 C50.63,104.00 50.43,105.80 49.80,106.60 C49.17,107.40 47.57,107.97 46.60,107.80 C45.63,107.63 44.40,106.73 44.00,105.60 C43.60,104.47 43.47,101.83 44.20,101.00 Z" fill="#c87479"/>
<path d="M35.60,107.60 C36.37,107.03 38.52,107.05 40.00,107.00 C41.48,106.95 42.90,107.27 44.50,107.30 C46.10,107.33 48.60,106.52 49.60,107.20 C50.60,107.88 50.37,109.90 50.50,111.40 C50.63,112.90 50.57,114.67 50.40,116.20 C50.23,117.73 50.15,119.53 49.50,120.60 C48.85,121.67 47.65,122.20 46.50,122.60 C45.35,123.00 43.92,123.03 42.60,123.00 C41.28,122.97 39.67,122.93 38.60,122.40 C37.53,121.87 36.73,121.12 36.20,119.80 C35.67,118.48 35.53,116.07 35.40,114.50 C35.27,112.93 35.37,111.55 35.40,110.40 C35.43,109.25 34.83,108.17 35.60,107.60 Z" fill="#d78481"/>
<path d="M38.20,109.40 C39.02,108.77 41.07,108.57 42.50,108.60 C43.93,108.63 45.95,108.87 46.80,109.60 C47.65,110.33 47.77,111.90 47.60,113.00 C47.43,114.10 46.70,115.57 45.80,116.20 C44.90,116.83 43.37,116.87 42.20,116.80 C41.03,116.73 39.57,116.53 38.80,115.80 C38.03,115.07 37.70,113.47 37.60,112.40 C37.50,111.33 37.38,110.03 38.20,109.40 Z" fill="#df9793"/>
<ellipse cx="42.4" cy="112.6" rx="2.4" ry="1.5" fill="#e6aaa6"/>
<ellipse cx="39.4" cy="119.2" rx="2.3" ry="1.7" fill="#cf7c7a"/>
<ellipse cx="46" cy="119.6" rx="2.1" ry="1.5" fill="#d07e7b"/>
<path d="M42.3,82.5 V93.5" stroke="#a8a8a8" stroke-width="0.7"/>
<path d="M42.4,123 V127" stroke="#c98f8f" stroke-width="0.9"/>
<circle cx="39.0" cy="84.9" r="1.2" fill="#8f1a26"/>
<circle cx="48.7" cy="95.6" r="0.95" fill="#8f1a26"/>
<circle cx="48.8" cy="103.5" r="0.9" fill="#8f1a26"/>
<circle cx="48.5" cy="117" r="0.95" fill="#8f1a26"/>
<circle cx="46.2" cy="128.4" r="0.7" fill="#8f1a26"/>
<circle cx="35.8" cy="137.2" r="2.1" fill="#dea3a8"/>
<circle cx="35.8" cy="137.2" r="1.15" fill="#8a1420"/>
<g>
<path d="M65.1,135.2 L100.5,156.3 L67.66,185.3" fill="none" stroke="#7287b9" stroke-width="7" stroke-linejoin="round"/>
<polygon points="58.4,131.1 71.0,132.0 64.9,141.6" fill="#7287b9"/>
<polygon points="62.0,190.6 66.2,178.9 73.6,187.4" fill="#7287b9"/>
</g>
<path d="M35.90,204.30 C34.33,204.30 32.45,203.92 31.20,203.60 C29.95,203.28 29.12,202.43 28.40,202.40 C27.68,202.37 27.45,203.70 26.90,203.40 C26.35,203.10 25.92,201.60 25.10,200.60 C24.28,199.60 23.18,198.25 22.00,197.40 C20.82,196.55 19.50,195.92 18.00,195.50 C16.50,195.08 14.50,194.90 13.00,194.90 C11.50,194.90 10.03,195.18 9.00,195.50 C7.97,195.82 7.08,195.97 6.80,196.80 C6.52,197.63 6.87,198.88 7.30,200.50 C7.73,202.12 8.55,204.33 9.40,206.50 C10.25,208.67 11.32,211.25 12.40,213.50 C13.48,215.75 14.70,217.78 15.90,220.00 C17.10,222.22 18.58,224.73 19.60,226.80 C20.62,228.87 21.28,230.77 22.00,232.40 C22.72,234.03 23.17,235.57 23.90,236.60 C24.63,237.63 25.45,238.28 26.40,238.60 C27.35,238.92 28.72,238.90 29.60,238.50 C30.48,238.10 31.03,237.12 31.70,236.20 C32.37,235.28 32.90,233.77 33.60,233.00 C34.30,232.23 35.13,231.60 35.90,231.60 C36.67,231.60 37.50,232.23 38.20,233.00 C38.90,233.77 39.43,235.28 40.10,236.20 C40.77,237.12 41.32,238.10 42.20,238.50 C43.08,238.90 44.45,238.92 45.40,238.60 C46.35,238.28 47.17,237.63 47.90,236.60 C48.63,235.57 49.08,234.03 49.80,232.40 C50.52,230.77 51.18,228.87 52.20,226.80 C53.22,224.73 54.70,222.22 55.90,220.00 C57.10,217.78 58.32,215.75 59.40,213.50 C60.48,211.25 61.55,208.67 62.40,206.50 C63.25,204.33 64.07,202.12 64.50,200.50 C64.93,198.88 65.28,197.63 65.00,196.80 C64.72,195.97 63.83,195.82 62.80,195.50 C61.77,195.18 60.30,194.90 58.80,194.90 C57.30,194.90 55.30,195.08 53.80,195.50 C52.30,195.92 50.98,196.55 49.80,197.40 C48.62,198.25 47.52,199.60 46.70,200.60 C45.88,201.60 45.45,203.10 44.90,203.40 C44.35,203.70 44.12,202.37 43.40,202.40 C42.68,202.43 41.85,203.28 40.60,203.60 C39.35,203.92 37.47,204.30 35.90,204.30 Z" fill="#eadab3" stroke="#d2bc8a" stroke-width="0.8"/>
<path d="M9.20,197.60 C9.65,196.17 12.62,196.33 14.50,196.40 C16.38,196.47 18.88,197.10 20.50,198.00 C22.12,198.90 23.35,200.38 24.20,201.80 C25.05,203.22 25.60,204.88 25.60,206.50 C25.60,208.12 25.13,210.22 24.20,211.50 C23.27,212.78 21.45,214.20 20.00,214.20 C18.55,214.20 16.87,213.03 15.50,211.50 C14.13,209.97 12.85,207.32 11.80,205.00 C10.75,202.68 8.75,199.03 9.20,197.60 Z" fill="#f1e6cb"/>
<path d="M62.60,197.60 C62.15,196.17 59.18,196.33 57.30,196.40 C55.42,196.47 52.92,197.10 51.30,198.00 C49.68,198.90 48.45,200.38 47.60,201.80 C46.75,203.22 46.20,204.88 46.20,206.50 C46.20,208.12 46.67,210.22 47.60,211.50 C48.53,212.78 50.35,214.20 51.80,214.20 C53.25,214.20 54.93,213.03 56.30,211.50 C57.67,209.97 58.95,207.32 60.00,205.00 C61.05,202.68 63.05,199.03 62.60,197.60 Z" fill="#f1e6cb"/>
<path d="M28.00,204.60 C29.22,203.65 33.27,204.80 35.90,204.80 C38.53,204.80 42.58,203.65 43.80,204.60 C45.02,205.55 43.60,208.52 43.20,210.50 C42.80,212.48 42.13,214.67 41.40,216.50 C40.67,218.33 39.72,220.35 38.80,221.50 C37.88,222.65 36.87,223.40 35.90,223.40 C34.93,223.40 33.92,222.65 33.00,221.50 C32.08,220.35 31.13,218.33 30.40,216.50 C29.67,214.67 29.00,212.48 28.60,210.50 C28.20,208.52 26.78,205.55 28.00,204.60 Z" fill="#e4d2a7" stroke="#d8c393" stroke-width="0.35"/>
<path d="M27.60,222.80 C29.38,222.08 33.13,225.20 35.90,225.20 C38.67,225.20 42.42,222.08 44.20,222.80 C45.98,223.52 46.50,227.17 46.60,229.50 C46.70,231.83 45.77,235.63 44.80,236.80 C43.83,237.97 42.28,237.33 40.80,236.50 C39.32,235.67 37.53,231.80 35.90,231.80 C34.27,231.80 32.48,235.67 31.00,236.50 C29.52,237.33 27.97,237.97 27.00,236.80 C26.03,235.63 25.10,231.83 25.20,229.50 C25.30,227.17 25.82,223.52 27.60,222.80 Z" fill="#e7d6ad"/>
<path d="M26.60,224.40 C27.08,223.40 28.18,223.37 28.90,223.60 C29.62,223.83 30.52,224.75 30.90,225.80 C31.28,226.85 31.38,228.67 31.20,229.90 C31.02,231.13 30.42,232.68 29.80,233.20 C29.18,233.72 28.13,233.60 27.50,233.00 C26.87,232.40 26.15,231.03 26.00,229.60 C25.85,228.17 26.12,225.40 26.60,224.40 Z" fill="#fbf7ee" stroke="#d6c192" stroke-width="0.35"/>
<path d="M45.20,224.40 C44.72,223.40 43.62,223.37 42.90,223.60 C42.18,223.83 41.28,224.75 40.90,225.80 C40.52,226.85 40.42,228.67 40.60,229.90 C40.78,231.13 41.38,232.68 42.00,233.20 C42.62,233.72 43.67,233.60 44.30,233.00 C44.93,232.40 45.65,231.03 45.80,229.60 C45.95,228.17 45.68,225.40 45.20,224.40 Z" fill="#fbf7ee" stroke="#d6c192" stroke-width="0.35"/>
<ellipse cx="25.8" cy="217.3" rx="2.0" ry="1.0" fill="#fbf5e6" transform="rotate(22 25.8 217.3)"/>
<ellipse cx="46.0" cy="217.3" rx="2.0" ry="1.0" fill="#fbf5e6" transform="rotate(-22 46.0 217.3)"/>
<circle cx="32" cy="207.6" r="0.5" fill="#cbb582"/>
<circle cx="39.8" cy="207.6" r="0.5" fill="#cbb582"/>
<circle cx="32.6" cy="211.6" r="0.5" fill="#cbb582"/>
<circle cx="39.2" cy="211.6" r="0.5" fill="#cbb582"/>
<circle cx="33.3" cy="215.6" r="0.5" fill="#cbb582"/>
<circle cx="38.5" cy="215.6" r="0.5" fill="#cbb582"/>
<text x="80.35" y="214.70" font-size="6.6" text-anchor="middle" fill="#262626" stroke="#262626" stroke-width="0.12" textLength="44.50" lengthAdjust="spacingAndGlyphs">CD138 + Sorted</text>
<text x="80.40" y="221.70" font-size="6.6" text-anchor="middle" fill="#262626" stroke="#262626" stroke-width="0.12" textLength="33.80" lengthAdjust="spacingAndGlyphs">Bone Marrow</text>
<text x="80.30" y="228.90" font-size="6.6" text-anchor="middle" fill="#262626" stroke="#262626" stroke-width="0.12" textLength="43.80" lengthAdjust="spacingAndGlyphs">Aspirate (n = 20)</text>
<text x="80.05" y="237.20" font-size="6.6" text-anchor="middle" fill="#262626" stroke="#262626" stroke-width="0.12" textLength="42.30" lengthAdjust="spacingAndGlyphs">Paired EMD and</text>
<text x="80.15" y="244.30" font-size="6.6" text-anchor="middle" fill="#262626" stroke="#262626" stroke-width="0.12" textLength="36.30" lengthAdjust="spacingAndGlyphs">BMA Samples</text>
<text x="80.50" y="251.20" font-size="6.6" text-anchor="middle" fill="#262626" stroke="#262626" stroke-width="0.12" textLength="16.40" lengthAdjust="spacingAndGlyphs">(n = 6)</text>
<text x="75.20" y="153.60" font-size="6.4" text-anchor="middle" fill="#262626" stroke="#262626" stroke-width="0.12" textLength="41.00" lengthAdjust="spacingAndGlyphs">Paired Germline</text>
<text x="74.80" y="160.50" font-size="6.4" text-anchor="middle" fill="#262626" stroke="#262626" stroke-width="0.12" textLength="33.10" lengthAdjust="spacingAndGlyphs">WES from all</text>
<text x="74.85" y="167.10" font-size="6.4" text-anchor="middle" fill="#262626" stroke="#262626" stroke-width="0.12" textLength="19.70" lengthAdjust="spacingAndGlyphs">patients</text>
</svg></div>
</body></html>
